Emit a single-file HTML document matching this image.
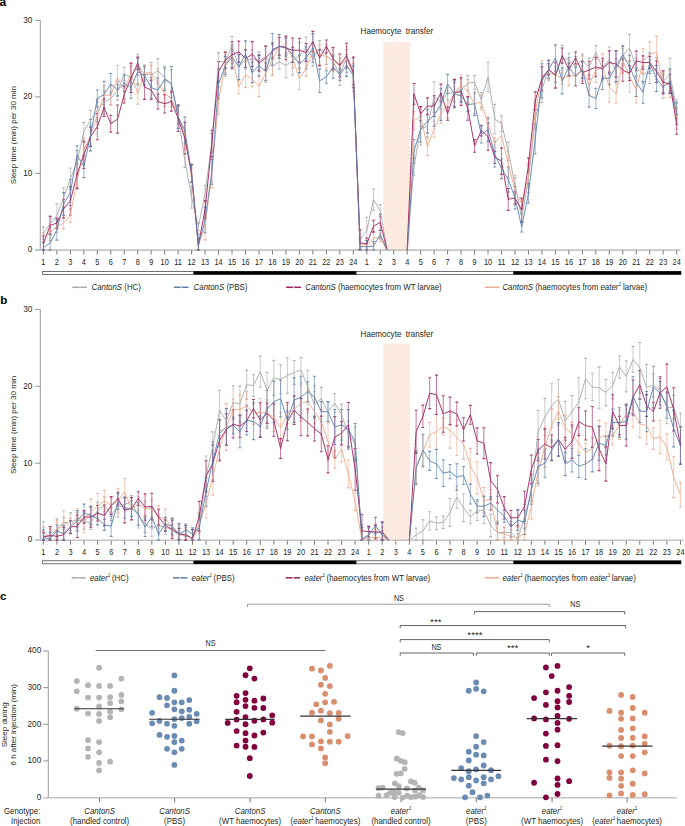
<!DOCTYPE html>
<html><head><meta charset="utf-8"><style>
html,body{margin:0;padding:0;background:#fff;}
body{width:685px;height:826px;overflow:hidden;font-family:"Liberation Sans", sans-serif;}
svg{display:block;}
</style></head><body>
<svg width="685" height="826" viewBox="0 0 685 826" font-family='"Liberation Sans", sans-serif'>
<defs><pattern id="dots" x="383.4" y="42" width="3.8" height="3.8" patternUnits="userSpaceOnUse"><rect width="3.8" height="3.8" fill="#fef3f3"/><circle cx="0.95" cy="0.95" r="0.68" fill="#fcc790"/><circle cx="2.85" cy="2.85" r="0.68" fill="#fcc790"/></pattern></defs>
<rect width="685" height="826" fill="#fff"/>
<text x="-0.4" y="6.1" font-size="12" text-anchor="start" font-weight="bold" font-style="normal" fill="#000" >a</text>
<rect x="383.3" y="42" width="26.7" height="207.9" fill="url(#dots)"/>
<text transform="translate(396.9 33.7) scale(1.01 1.1)" font-size="8" text-anchor="middle" font-weight="normal" font-style="normal" fill="#231f20">Haemocyte&#160; transfer</text>
<text x="0" y="0" font-size="8" text-anchor="middle" font-weight="normal" font-style="normal" fill="#231f20" transform="translate(15.5 135.1) rotate(-90) scale(1.0 0.95)">Sleep time (min) per 30 min</text>
<line x1="40.3" y1="20.4" x2="40.3" y2="249.9" stroke="#9a9a9a" stroke-width="1" />
<line x1="35.2" y1="249.9" x2="40.3" y2="249.9" stroke="#777" stroke-width="0.8" />
<text transform="translate(32.3 252.2) scale(1 1.07)" font-size="8.2" text-anchor="end" font-weight="normal" font-style="normal" fill="#231f20">0</text>
<line x1="35.2" y1="173.4" x2="40.3" y2="173.4" stroke="#777" stroke-width="0.8" />
<text transform="translate(32.3 175.7) scale(1 1.07)" font-size="8.2" text-anchor="end" font-weight="normal" font-style="normal" fill="#231f20">10</text>
<line x1="35.2" y1="96.9" x2="40.3" y2="96.9" stroke="#777" stroke-width="0.8" />
<text transform="translate(32.3 99.2) scale(1 1.07)" font-size="8.2" text-anchor="end" font-weight="normal" font-style="normal" fill="#231f20">20</text>
<line x1="35.2" y1="20.4" x2="40.3" y2="20.4" stroke="#777" stroke-width="0.8" />
<text transform="translate(32.3 22.7) scale(1 1.07)" font-size="8.2" text-anchor="end" font-weight="normal" font-style="normal" fill="#231f20">30</text>
<line x1="35.2" y1="250.1" x2="680.5" y2="250.1" stroke="#c4c4c4" stroke-width="1.6" />
<line x1="43.4" y1="250.4" x2="43.4" y2="254.5" stroke="#555" stroke-width="0.8" />
<text transform="translate(43.4 264.8) scale(0.98 1.17)" font-size="7.5" text-anchor="middle" font-weight="normal" font-style="normal" fill="#231f20">1</text>
<line x1="56.87" y1="250.4" x2="56.87" y2="254.5" stroke="#555" stroke-width="0.8" />
<text transform="translate(56.87 264.8) scale(0.98 1.17)" font-size="7.5" text-anchor="middle" font-weight="normal" font-style="normal" fill="#231f20">2</text>
<line x1="70.35" y1="250.4" x2="70.35" y2="254.5" stroke="#555" stroke-width="0.8" />
<text transform="translate(70.35 264.8) scale(0.98 1.17)" font-size="7.5" text-anchor="middle" font-weight="normal" font-style="normal" fill="#231f20">3</text>
<line x1="83.82" y1="250.4" x2="83.82" y2="254.5" stroke="#555" stroke-width="0.8" />
<text transform="translate(83.82 264.8) scale(0.98 1.17)" font-size="7.5" text-anchor="middle" font-weight="normal" font-style="normal" fill="#231f20">4</text>
<line x1="97.3" y1="250.4" x2="97.3" y2="254.5" stroke="#555" stroke-width="0.8" />
<text transform="translate(97.3 264.8) scale(0.98 1.17)" font-size="7.5" text-anchor="middle" font-weight="normal" font-style="normal" fill="#231f20">5</text>
<line x1="110.77" y1="250.4" x2="110.77" y2="254.5" stroke="#555" stroke-width="0.8" />
<text transform="translate(110.77 264.8) scale(0.98 1.17)" font-size="7.5" text-anchor="middle" font-weight="normal" font-style="normal" fill="#231f20">6</text>
<line x1="124.24" y1="250.4" x2="124.24" y2="254.5" stroke="#555" stroke-width="0.8" />
<text transform="translate(124.24 264.8) scale(0.98 1.17)" font-size="7.5" text-anchor="middle" font-weight="normal" font-style="normal" fill="#231f20">7</text>
<line x1="137.72" y1="250.4" x2="137.72" y2="254.5" stroke="#555" stroke-width="0.8" />
<text transform="translate(137.72 264.8) scale(0.98 1.17)" font-size="7.5" text-anchor="middle" font-weight="normal" font-style="normal" fill="#231f20">8</text>
<line x1="151.19" y1="250.4" x2="151.19" y2="254.5" stroke="#555" stroke-width="0.8" />
<text transform="translate(151.19 264.8) scale(0.98 1.17)" font-size="7.5" text-anchor="middle" font-weight="normal" font-style="normal" fill="#231f20">9</text>
<line x1="164.67" y1="250.4" x2="164.67" y2="254.5" stroke="#555" stroke-width="0.8" />
<text transform="translate(164.67 264.8) scale(0.98 1.17)" font-size="7.5" text-anchor="middle" font-weight="normal" font-style="normal" fill="#231f20">10</text>
<line x1="178.14" y1="250.4" x2="178.14" y2="254.5" stroke="#555" stroke-width="0.8" />
<text transform="translate(178.14 264.8) scale(0.98 1.17)" font-size="7.5" text-anchor="middle" font-weight="normal" font-style="normal" fill="#231f20">11</text>
<line x1="191.61" y1="250.4" x2="191.61" y2="254.5" stroke="#555" stroke-width="0.8" />
<text transform="translate(191.61 264.8) scale(0.98 1.17)" font-size="7.5" text-anchor="middle" font-weight="normal" font-style="normal" fill="#231f20">12</text>
<line x1="205.09" y1="250.4" x2="205.09" y2="254.5" stroke="#555" stroke-width="0.8" />
<text transform="translate(205.09 264.8) scale(0.98 1.17)" font-size="7.5" text-anchor="middle" font-weight="normal" font-style="normal" fill="#231f20">13</text>
<line x1="218.56" y1="250.4" x2="218.56" y2="254.5" stroke="#555" stroke-width="0.8" />
<text transform="translate(218.56 264.8) scale(0.98 1.17)" font-size="7.5" text-anchor="middle" font-weight="normal" font-style="normal" fill="#231f20">14</text>
<line x1="232.04" y1="250.4" x2="232.04" y2="254.5" stroke="#555" stroke-width="0.8" />
<text transform="translate(232.04 264.8) scale(0.98 1.17)" font-size="7.5" text-anchor="middle" font-weight="normal" font-style="normal" fill="#231f20">15</text>
<line x1="245.51" y1="250.4" x2="245.51" y2="254.5" stroke="#555" stroke-width="0.8" />
<text transform="translate(245.51 264.8) scale(0.98 1.17)" font-size="7.5" text-anchor="middle" font-weight="normal" font-style="normal" fill="#231f20">16</text>
<line x1="258.98" y1="250.4" x2="258.98" y2="254.5" stroke="#555" stroke-width="0.8" />
<text transform="translate(258.98 264.8) scale(0.98 1.17)" font-size="7.5" text-anchor="middle" font-weight="normal" font-style="normal" fill="#231f20">17</text>
<line x1="272.46" y1="250.4" x2="272.46" y2="254.5" stroke="#555" stroke-width="0.8" />
<text transform="translate(272.46 264.8) scale(0.98 1.17)" font-size="7.5" text-anchor="middle" font-weight="normal" font-style="normal" fill="#231f20">18</text>
<line x1="285.93" y1="250.4" x2="285.93" y2="254.5" stroke="#555" stroke-width="0.8" />
<text transform="translate(285.93 264.8) scale(0.98 1.17)" font-size="7.5" text-anchor="middle" font-weight="normal" font-style="normal" fill="#231f20">19</text>
<line x1="299.41" y1="250.4" x2="299.41" y2="254.5" stroke="#555" stroke-width="0.8" />
<text transform="translate(299.41 264.8) scale(0.98 1.17)" font-size="7.5" text-anchor="middle" font-weight="normal" font-style="normal" fill="#231f20">20</text>
<line x1="312.88" y1="250.4" x2="312.88" y2="254.5" stroke="#555" stroke-width="0.8" />
<text transform="translate(312.88 264.8) scale(0.98 1.17)" font-size="7.5" text-anchor="middle" font-weight="normal" font-style="normal" fill="#231f20">21</text>
<line x1="326.35" y1="250.4" x2="326.35" y2="254.5" stroke="#555" stroke-width="0.8" />
<text transform="translate(326.35 264.8) scale(0.98 1.17)" font-size="7.5" text-anchor="middle" font-weight="normal" font-style="normal" fill="#231f20">22</text>
<line x1="339.83" y1="250.4" x2="339.83" y2="254.5" stroke="#555" stroke-width="0.8" />
<text transform="translate(339.83 264.8) scale(0.98 1.17)" font-size="7.5" text-anchor="middle" font-weight="normal" font-style="normal" fill="#231f20">23</text>
<line x1="353.3" y1="250.4" x2="353.3" y2="254.5" stroke="#555" stroke-width="0.8" />
<text transform="translate(353.3 264.8) scale(0.98 1.17)" font-size="7.5" text-anchor="middle" font-weight="normal" font-style="normal" fill="#231f20">24</text>
<line x1="366.78" y1="250.4" x2="366.78" y2="254.5" stroke="#555" stroke-width="0.8" />
<text transform="translate(366.78 264.8) scale(0.98 1.17)" font-size="7.5" text-anchor="middle" font-weight="normal" font-style="normal" fill="#231f20">1</text>
<line x1="380.25" y1="250.4" x2="380.25" y2="254.5" stroke="#555" stroke-width="0.8" />
<text transform="translate(380.25 264.8) scale(0.98 1.17)" font-size="7.5" text-anchor="middle" font-weight="normal" font-style="normal" fill="#231f20">2</text>
<line x1="393.72" y1="250.4" x2="393.72" y2="254.5" stroke="#555" stroke-width="0.8" />
<text transform="translate(393.72 264.8) scale(0.98 1.17)" font-size="7.5" text-anchor="middle" font-weight="normal" font-style="normal" fill="#231f20">3</text>
<line x1="407.2" y1="250.4" x2="407.2" y2="254.5" stroke="#555" stroke-width="0.8" />
<text transform="translate(407.2 264.8) scale(0.98 1.17)" font-size="7.5" text-anchor="middle" font-weight="normal" font-style="normal" fill="#231f20">4</text>
<line x1="420.67" y1="250.4" x2="420.67" y2="254.5" stroke="#555" stroke-width="0.8" />
<text transform="translate(420.67 264.8) scale(0.98 1.17)" font-size="7.5" text-anchor="middle" font-weight="normal" font-style="normal" fill="#231f20">5</text>
<line x1="434.15" y1="250.4" x2="434.15" y2="254.5" stroke="#555" stroke-width="0.8" />
<text transform="translate(434.15 264.8) scale(0.98 1.17)" font-size="7.5" text-anchor="middle" font-weight="normal" font-style="normal" fill="#231f20">6</text>
<line x1="447.62" y1="250.4" x2="447.62" y2="254.5" stroke="#555" stroke-width="0.8" />
<text transform="translate(447.62 264.8) scale(0.98 1.17)" font-size="7.5" text-anchor="middle" font-weight="normal" font-style="normal" fill="#231f20">7</text>
<line x1="461.09" y1="250.4" x2="461.09" y2="254.5" stroke="#555" stroke-width="0.8" />
<text transform="translate(461.09 264.8) scale(0.98 1.17)" font-size="7.5" text-anchor="middle" font-weight="normal" font-style="normal" fill="#231f20">8</text>
<line x1="474.57" y1="250.4" x2="474.57" y2="254.5" stroke="#555" stroke-width="0.8" />
<text transform="translate(474.57 264.8) scale(0.98 1.17)" font-size="7.5" text-anchor="middle" font-weight="normal" font-style="normal" fill="#231f20">9</text>
<line x1="488.04" y1="250.4" x2="488.04" y2="254.5" stroke="#555" stroke-width="0.8" />
<text transform="translate(488.04 264.8) scale(0.98 1.17)" font-size="7.5" text-anchor="middle" font-weight="normal" font-style="normal" fill="#231f20">10</text>
<line x1="501.52" y1="250.4" x2="501.52" y2="254.5" stroke="#555" stroke-width="0.8" />
<text transform="translate(501.52 264.8) scale(0.98 1.17)" font-size="7.5" text-anchor="middle" font-weight="normal" font-style="normal" fill="#231f20">11</text>
<line x1="514.99" y1="250.4" x2="514.99" y2="254.5" stroke="#555" stroke-width="0.8" />
<text transform="translate(514.99 264.8) scale(0.98 1.17)" font-size="7.5" text-anchor="middle" font-weight="normal" font-style="normal" fill="#231f20">12</text>
<line x1="528.46" y1="250.4" x2="528.46" y2="254.5" stroke="#555" stroke-width="0.8" />
<text transform="translate(528.46 264.8) scale(0.98 1.17)" font-size="7.5" text-anchor="middle" font-weight="normal" font-style="normal" fill="#231f20">13</text>
<line x1="541.94" y1="250.4" x2="541.94" y2="254.5" stroke="#555" stroke-width="0.8" />
<text transform="translate(541.94 264.8) scale(0.98 1.17)" font-size="7.5" text-anchor="middle" font-weight="normal" font-style="normal" fill="#231f20">14</text>
<line x1="555.41" y1="250.4" x2="555.41" y2="254.5" stroke="#555" stroke-width="0.8" />
<text transform="translate(555.41 264.8) scale(0.98 1.17)" font-size="7.5" text-anchor="middle" font-weight="normal" font-style="normal" fill="#231f20">15</text>
<line x1="568.89" y1="250.4" x2="568.89" y2="254.5" stroke="#555" stroke-width="0.8" />
<text transform="translate(568.89 264.8) scale(0.98 1.17)" font-size="7.5" text-anchor="middle" font-weight="normal" font-style="normal" fill="#231f20">16</text>
<line x1="582.36" y1="250.4" x2="582.36" y2="254.5" stroke="#555" stroke-width="0.8" />
<text transform="translate(582.36 264.8) scale(0.98 1.17)" font-size="7.5" text-anchor="middle" font-weight="normal" font-style="normal" fill="#231f20">17</text>
<line x1="595.83" y1="250.4" x2="595.83" y2="254.5" stroke="#555" stroke-width="0.8" />
<text transform="translate(595.83 264.8) scale(0.98 1.17)" font-size="7.5" text-anchor="middle" font-weight="normal" font-style="normal" fill="#231f20">18</text>
<line x1="609.31" y1="250.4" x2="609.31" y2="254.5" stroke="#555" stroke-width="0.8" />
<text transform="translate(609.31 264.8) scale(0.98 1.17)" font-size="7.5" text-anchor="middle" font-weight="normal" font-style="normal" fill="#231f20">19</text>
<line x1="622.78" y1="250.4" x2="622.78" y2="254.5" stroke="#555" stroke-width="0.8" />
<text transform="translate(622.78 264.8) scale(0.98 1.17)" font-size="7.5" text-anchor="middle" font-weight="normal" font-style="normal" fill="#231f20">20</text>
<line x1="636.26" y1="250.4" x2="636.26" y2="254.5" stroke="#555" stroke-width="0.8" />
<text transform="translate(636.26 264.8) scale(0.98 1.17)" font-size="7.5" text-anchor="middle" font-weight="normal" font-style="normal" fill="#231f20">21</text>
<line x1="649.73" y1="250.4" x2="649.73" y2="254.5" stroke="#555" stroke-width="0.8" />
<text transform="translate(649.73 264.8) scale(0.98 1.17)" font-size="7.5" text-anchor="middle" font-weight="normal" font-style="normal" fill="#231f20">22</text>
<line x1="663.2" y1="250.4" x2="663.2" y2="254.5" stroke="#555" stroke-width="0.8" />
<text transform="translate(663.2 264.8) scale(0.98 1.17)" font-size="7.5" text-anchor="middle" font-weight="normal" font-style="normal" fill="#231f20">23</text>
<line x1="676.68" y1="250.4" x2="676.68" y2="254.5" stroke="#555" stroke-width="0.8" />
<text transform="translate(676.68 264.8) scale(0.98 1.17)" font-size="7.5" text-anchor="middle" font-weight="normal" font-style="normal" fill="#231f20">24</text>
<rect x="42.67" y="271.48" width="150.65" height="2.95" fill="#fff" stroke="#444" stroke-width="0.75"/>
<rect x="193.7" y="271.1" width="162.5" height="3.7" fill="#000"/>
<rect x="356.2" y="271.48" width="157.4" height="2.95" fill="#fff" stroke="#444" stroke-width="0.75"/>
<rect x="513.6" y="271.1" width="167.7" height="3.7" fill="#000"/>
<g stroke="#a8a8a8" stroke-width="0.85" opacity="0.7" fill="none"><path d="M43.4 226.9V239.24"/><path d="M50.14 215.92V231.86"/><path d="M56.87 203.71V227.24"/><path d="M63.61 187.75V208.01"/><path d="M70.35 168.07V189.44"/><path d="M77.09 150.59V174.79"/><path d="M83.82 122.4V140.25"/><path d="M90.56 110.48V130.75"/><path d="M97.3 99.67V121.67"/><path d="M104.03 90.66V113.85"/><path d="M110.77 92.1V104.76"/><path d="M117.51 81.43V100.13"/><path d="M124.24 67.19V80.71"/><path d="M130.98 65.9V89.65"/><path d="M137.72 54.22V75.32"/><path d="M144.46 67.81V80.09"/><path d="M151.19 62.46V86.97"/><path d="M157.93 58.65V83.13"/><path d="M164.67 66.57V88.98"/><path d="M171.4 69.92V97.87"/><path d="M178.14 106.36V124.16"/><path d="M184.88 153.45V167.34"/><path d="M191.61 186.26V207.97"/><path d="M198.35 223.14V230.76"/><path d="M205.09 185.25V201.33"/><path d="M211.83 133.51V152.09"/><path d="M218.56 52.62V69.27"/><path d="M225.3 52.22V72.73"/><path d="M232.04 36.49V54.8"/><path d="M238.77 53.97V80.16"/><path d="M245.51 49.57V69.26"/><path d="M252.25 49.44V69.39"/><path d="M258.98 51.83V70.06"/><path d="M265.72 45.64V67.07"/><path d="M272.46 57.33V75.27"/><path d="M279.19 54.45V68.97"/><path d="M285.93 53.3V77.77"/><path d="M292.67 47.06V74.83"/><path d="M299.41 42.33V68.85"/><path d="M306.14 37V58.88"/><path d="M312.88 51.15V66.15"/><path d="M319.62 40.59V55.29"/><path d="M326.35 46.85V64.33"/><path d="M333.09 54.47V68.95"/><path d="M339.83 63.88V85.55"/><path d="M346.56 49.77V66"/><path d="M353.3 58.03V91.4"/><path d="M360.04 230.3V248.08"/><path d="M366.78 217.19V244.36"/><path d="M373.51 188.72V210.1"/><path d="M380.25 204.67V217.1"/><path d="M413.94 157.89V175.14"/><path d="M420.67 113.12V144.94"/><path d="M427.41 114.93V137.01"/><path d="M434.15 81.71V112.09"/><path d="M440.88 93.86V109.12"/><path d="M447.62 87.79V99.89"/><path d="M454.36 82.84V101.78"/><path d="M461.09 78.68V101.35"/><path d="M467.83 75.6V90.66"/><path d="M474.57 75.44V89.29"/><path d="M481.31 92.5V107.42"/><path d="M488.04 62.3V91.72"/><path d="M494.78 104.39V133.78"/><path d="M501.52 115.79V131.56"/><path d="M508.25 142.02V160.41"/><path d="M514.99 177.48V192.27"/><path d="M521.73 213.66V221.88"/><path d="M528.46 165.16V192.35"/><path d="M535.2 110.82V128.88"/><path d="M541.94 75.87V102.63"/><path d="M548.68 59.47V79.25"/><path d="M555.41 67.3V82.13"/><path d="M562.15 45.37V70.4"/><path d="M568.89 53.29V67.07"/><path d="M575.62 56.66V75.94"/><path d="M582.36 54.04V66.32"/><path d="M589.1 58.12V76.01"/><path d="M595.83 45.52V59.54"/><path d="M602.57 60.91V76.28"/><path d="M609.31 47.07V71.76"/><path d="M616.04 58.91V81.34"/><path d="M622.78 45.87V65.31"/><path d="M629.52 34.35V61.53"/><path d="M636.26 57.96V76.17"/><path d="M642.99 66.45V82.98"/><path d="M649.73 59.75V83.56"/><path d="M656.47 57.79V79.4"/><path d="M663.2 74.65V87.02"/><path d="M669.94 58.19V91.24"/><path d="M676.68 99.96V118.32"/></g><g stroke="#a8a8a8" stroke-width="1.1" opacity="0.85" fill="none"><path d="M41.95 226.9H44.85M41.95 239.24H44.85"/><path d="M48.69 215.92H51.59M48.69 231.86H51.59"/><path d="M55.42 203.71H58.32M55.42 227.24H58.32"/><path d="M62.16 187.75H65.06M62.16 208.01H65.06"/><path d="M68.9 168.07H71.8M68.9 189.44H71.8"/><path d="M75.64 150.59H78.54M75.64 174.79H78.54"/><path d="M82.37 122.4H85.27M82.37 140.25H85.27"/><path d="M89.11 110.48H92.01M89.11 130.75H92.01"/><path d="M95.85 99.67H98.75M95.85 121.67H98.75"/><path d="M102.58 90.66H105.48M102.58 113.85H105.48"/><path d="M109.32 92.1H112.22M109.32 104.76H112.22"/><path d="M116.06 81.43H118.96M116.06 100.13H118.96"/><path d="M122.79 67.19H125.69M122.79 80.71H125.69"/><path d="M129.53 65.9H132.43M129.53 89.65H132.43"/><path d="M136.27 54.22H139.17M136.27 75.32H139.17"/><path d="M143.01 67.81H145.91M143.01 80.09H145.91"/><path d="M149.74 62.46H152.64M149.74 86.97H152.64"/><path d="M156.48 58.65H159.38M156.48 83.13H159.38"/><path d="M163.22 66.57H166.12M163.22 88.98H166.12"/><path d="M169.95 69.92H172.85M169.95 97.87H172.85"/><path d="M176.69 106.36H179.59M176.69 124.16H179.59"/><path d="M183.43 153.45H186.33M183.43 167.34H186.33"/><path d="M190.16 186.26H193.06M190.16 207.97H193.06"/><path d="M196.9 223.14H199.8M196.9 230.76H199.8"/><path d="M203.64 185.25H206.54M203.64 201.33H206.54"/><path d="M210.38 133.51H213.28M210.38 152.09H213.28"/><path d="M217.11 52.62H220.01M217.11 69.27H220.01"/><path d="M223.85 52.22H226.75M223.85 72.73H226.75"/><path d="M230.59 36.49H233.49M230.59 54.8H233.49"/><path d="M237.32 53.97H240.22M237.32 80.16H240.22"/><path d="M244.06 49.57H246.96M244.06 69.26H246.96"/><path d="M250.8 49.44H253.7M250.8 69.39H253.7"/><path d="M257.53 51.83H260.43M257.53 70.06H260.43"/><path d="M264.27 45.64H267.17M264.27 67.07H267.17"/><path d="M271.01 57.33H273.91M271.01 75.27H273.91"/><path d="M277.75 54.45H280.64M277.75 68.97H280.64"/><path d="M284.48 53.3H287.38M284.48 77.77H287.38"/><path d="M291.22 47.06H294.12M291.22 74.83H294.12"/><path d="M297.96 42.33H300.86M297.96 68.85H300.86"/><path d="M304.69 37H307.59M304.69 58.88H307.59"/><path d="M311.43 51.15H314.33M311.43 66.15H314.33"/><path d="M318.17 40.59H321.07M318.17 55.29H321.07"/><path d="M324.9 46.85H327.8M324.9 64.33H327.8"/><path d="M331.64 54.47H334.54M331.64 68.95H334.54"/><path d="M338.38 63.88H341.28M338.38 85.55H341.28"/><path d="M345.12 49.77H348.01M345.12 66H348.01"/><path d="M351.85 58.03H354.75M351.85 91.4H354.75"/><path d="M358.59 230.3H361.49M358.59 248.08H361.49"/><path d="M365.33 217.19H368.23M365.33 244.36H368.23"/><path d="M372.06 188.72H374.96M372.06 210.1H374.96"/><path d="M378.8 204.67H381.7M378.8 217.1H381.7"/><path d="M412.49 157.89H415.38M412.49 175.14H415.38"/><path d="M419.22 113.12H422.12M419.22 144.94H422.12"/><path d="M425.96 114.93H428.86M425.96 137.01H428.86"/><path d="M432.7 81.71H435.6M432.7 112.09H435.6"/><path d="M439.43 93.86H442.33M439.43 109.12H442.33"/><path d="M446.17 87.79H449.07M446.17 99.89H449.07"/><path d="M452.91 82.84H455.81M452.91 101.78H455.81"/><path d="M459.64 78.68H462.54M459.64 101.35H462.54"/><path d="M466.38 75.6H469.28M466.38 90.66H469.28"/><path d="M473.12 75.44H476.02M473.12 89.29H476.02"/><path d="M479.86 92.5H482.75M479.86 107.42H482.75"/><path d="M486.59 62.3H489.49M486.59 91.72H489.49"/><path d="M493.33 104.39H496.23M493.33 133.78H496.23"/><path d="M500.07 115.79H502.97M500.07 131.56H502.97"/><path d="M506.8 142.02H509.7M506.8 160.41H509.7"/><path d="M513.54 177.48H516.44M513.54 192.27H516.44"/><path d="M520.28 213.66H523.18M520.28 221.88H523.18"/><path d="M527.01 165.16H529.91M527.01 192.35H529.91"/><path d="M533.75 110.82H536.65M533.75 128.88H536.65"/><path d="M540.49 75.87H543.39M540.49 102.63H543.39"/><path d="M547.23 59.47H550.13M547.23 79.25H550.13"/><path d="M553.96 67.3H556.86M553.96 82.13H556.86"/><path d="M560.7 45.37H563.6M560.7 70.4H563.6"/><path d="M567.44 53.29H570.34M567.44 67.07H570.34"/><path d="M574.17 56.66H577.07M574.17 75.94H577.07"/><path d="M580.91 54.04H583.81M580.91 66.32H583.81"/><path d="M587.65 58.12H590.55M587.65 76.01H590.55"/><path d="M594.38 45.52H597.28M594.38 59.54H597.28"/><path d="M601.12 60.91H604.02M601.12 76.28H604.02"/><path d="M607.86 47.07H610.76M607.86 71.76H610.76"/><path d="M614.59 58.91H617.5M614.59 81.34H617.5"/><path d="M621.33 45.87H624.23M621.33 65.31H624.23"/><path d="M628.07 34.35H630.97M628.07 61.53H630.97"/><path d="M634.81 57.96H637.71M634.81 76.17H637.71"/><path d="M641.54 66.45H644.44M641.54 82.98H644.44"/><path d="M648.28 59.75H651.18M648.28 83.56H651.18"/><path d="M655.02 57.79H657.92M655.02 79.4H657.92"/><path d="M661.75 74.65H664.65M661.75 87.02H664.65"/><path d="M668.49 58.19H671.39M668.49 91.24H671.39"/><path d="M675.23 99.96H678.13M675.23 118.32H678.13"/></g>
<g stroke="#eca98b" stroke-width="0.85" opacity="0.7" fill="none"><path d="M43.4 232.93V242.39"/><path d="M50.14 224.25V240.36"/><path d="M56.87 221.31V232.59"/><path d="M63.61 217.36V228.89"/><path d="M70.35 208.72V222.23"/><path d="M77.09 172.92V187.65"/><path d="M83.82 138.13V162.77"/><path d="M90.56 126.02V144.28"/><path d="M97.3 102.01V128.51"/><path d="M104.03 85.99V104.75"/><path d="M110.77 85.58V105.16"/><path d="M117.51 65.52V90.03"/><path d="M124.24 82.19V99.37"/><path d="M130.98 63.78V82.59"/><path d="M137.72 83.37V104.31"/><path d="M144.46 64.92V81.45"/><path d="M151.19 65.39V79.45"/><path d="M157.93 68.7V97.56"/><path d="M164.67 81.39V106.29"/><path d="M171.4 89.98V106.88"/><path d="M178.14 106.18V124.34"/><path d="M184.88 121.02V149.28"/><path d="M191.61 163.9V193.61"/><path d="M198.35 238V249.9"/><path d="M205.09 212.53V239.84"/><path d="M211.83 158.92V187.88"/><path d="M218.56 87.14V114.31"/><path d="M225.3 51.56V76.45"/><path d="M232.04 47.66V63.52"/><path d="M238.77 80.31V93.6"/><path d="M245.51 61.84V87.59"/><path d="M252.25 71.59V87.02"/><path d="M258.98 75.74V96.64"/><path d="M265.72 63.82V82.55"/><path d="M272.46 45.1V75.26"/><path d="M279.19 34.79V58.03"/><path d="M285.93 36.86V54.43"/><path d="M292.67 49.21V68.09"/><path d="M299.41 67.26V89.82"/><path d="M306.14 60.8V76.39"/><path d="M312.88 42.7V59.3"/><path d="M319.62 44.86V64.79"/><path d="M326.35 44.08V68.63"/><path d="M333.09 50.19V71.7"/><path d="M339.83 58.25V72.82"/><path d="M346.56 46.48V72.35"/><path d="M353.3 63.19V83.18"/><path d="M360.04 238.62V249.9"/><path d="M366.78 240.51V249.9"/><path d="M373.51 231.79V243.53"/><path d="M380.25 233.32V242"/><path d="M413.94 111.61V129.62"/><path d="M420.67 107.16V126.42"/><path d="M427.41 137.63V155.62"/><path d="M434.15 121.03V137.03"/><path d="M440.88 104.27V123.19"/><path d="M447.62 91.07V118.03"/><path d="M454.36 79.33V108.35"/><path d="M461.09 75.03V94.29"/><path d="M467.83 79.51V103.58"/><path d="M474.57 93.98V113.59"/><path d="M481.31 94.84V109.67"/><path d="M488.04 116.86V132.02"/><path d="M494.78 137.64V147.96"/><path d="M501.52 122.08V148.22"/><path d="M508.25 151.13V177.31"/><path d="M514.99 175.49V204.97"/><path d="M521.73 199.29V208.71"/><path d="M528.46 163.44V187.95"/><path d="M535.2 100.06V124.34"/><path d="M541.94 60.81V91.68"/><path d="M548.68 65.75V80.62"/><path d="M555.41 61.95V87.48"/><path d="M562.15 72.87V84.21"/><path d="M568.89 67.11V85.38"/><path d="M575.62 64.32V86.64"/><path d="M582.36 55.79V81.4"/><path d="M589.1 74.59V94.73"/><path d="M595.83 57.71V82.54"/><path d="M602.57 53.92V80.21"/><path d="M609.31 71.71V102.2"/><path d="M616.04 83.95V103.73"/><path d="M622.78 48.47V73.42"/><path d="M629.52 60.48V92.01"/><path d="M636.26 77.04V102.99"/><path d="M642.99 48.74V73.15"/><path d="M649.73 41.86V66.26"/><path d="M656.47 36.16V68.9"/><path d="M663.2 72.7V98.15"/><path d="M669.94 70.43V97.36"/><path d="M676.68 107.69V128.95"/></g><g stroke="#eca98b" stroke-width="1.1" opacity="0.85" fill="none"><path d="M41.95 232.93H44.85M41.95 242.39H44.85"/><path d="M48.69 224.25H51.59M48.69 240.36H51.59"/><path d="M55.42 221.31H58.32M55.42 232.59H58.32"/><path d="M62.16 217.36H65.06M62.16 228.89H65.06"/><path d="M68.9 208.72H71.8M68.9 222.23H71.8"/><path d="M75.64 172.92H78.54M75.64 187.65H78.54"/><path d="M82.37 138.13H85.27M82.37 162.77H85.27"/><path d="M89.11 126.02H92.01M89.11 144.28H92.01"/><path d="M95.85 102.01H98.75M95.85 128.51H98.75"/><path d="M102.58 85.99H105.48M102.58 104.75H105.48"/><path d="M109.32 85.58H112.22M109.32 105.16H112.22"/><path d="M116.06 65.52H118.96M116.06 90.03H118.96"/><path d="M122.79 82.19H125.69M122.79 99.37H125.69"/><path d="M129.53 63.78H132.43M129.53 82.59H132.43"/><path d="M136.27 83.37H139.17M136.27 104.31H139.17"/><path d="M143.01 64.92H145.91M143.01 81.45H145.91"/><path d="M149.74 65.39H152.64M149.74 79.45H152.64"/><path d="M156.48 68.7H159.38M156.48 97.56H159.38"/><path d="M163.22 81.39H166.12M163.22 106.29H166.12"/><path d="M169.95 89.98H172.85M169.95 106.88H172.85"/><path d="M176.69 106.18H179.59M176.69 124.34H179.59"/><path d="M183.43 121.02H186.33M183.43 149.28H186.33"/><path d="M190.16 163.9H193.06M190.16 193.61H193.06"/><path d="M196.9 238H199.8M196.9 249.9H199.8"/><path d="M203.64 212.53H206.54M203.64 239.84H206.54"/><path d="M210.38 158.92H213.28M210.38 187.88H213.28"/><path d="M217.11 87.14H220.01M217.11 114.31H220.01"/><path d="M223.85 51.56H226.75M223.85 76.45H226.75"/><path d="M230.59 47.66H233.49M230.59 63.52H233.49"/><path d="M237.32 80.31H240.22M237.32 93.6H240.22"/><path d="M244.06 61.84H246.96M244.06 87.59H246.96"/><path d="M250.8 71.59H253.7M250.8 87.02H253.7"/><path d="M257.53 75.74H260.43M257.53 96.64H260.43"/><path d="M264.27 63.82H267.17M264.27 82.55H267.17"/><path d="M271.01 45.1H273.91M271.01 75.26H273.91"/><path d="M277.75 34.79H280.64M277.75 58.03H280.64"/><path d="M284.48 36.86H287.38M284.48 54.43H287.38"/><path d="M291.22 49.21H294.12M291.22 68.09H294.12"/><path d="M297.96 67.26H300.86M297.96 89.82H300.86"/><path d="M304.69 60.8H307.59M304.69 76.39H307.59"/><path d="M311.43 42.7H314.33M311.43 59.3H314.33"/><path d="M318.17 44.86H321.07M318.17 64.79H321.07"/><path d="M324.9 44.08H327.8M324.9 68.63H327.8"/><path d="M331.64 50.19H334.54M331.64 71.7H334.54"/><path d="M338.38 58.25H341.28M338.38 72.82H341.28"/><path d="M345.12 46.48H348.01M345.12 72.35H348.01"/><path d="M351.85 63.19H354.75M351.85 83.18H354.75"/><path d="M358.59 238.62H361.49M358.59 249.9H361.49"/><path d="M365.33 240.51H368.23M365.33 249.9H368.23"/><path d="M372.06 231.79H374.96M372.06 243.53H374.96"/><path d="M378.8 233.32H381.7M378.8 242H381.7"/><path d="M412.49 111.61H415.38M412.49 129.62H415.38"/><path d="M419.22 107.16H422.12M419.22 126.42H422.12"/><path d="M425.96 137.63H428.86M425.96 155.62H428.86"/><path d="M432.7 121.03H435.6M432.7 137.03H435.6"/><path d="M439.43 104.27H442.33M439.43 123.19H442.33"/><path d="M446.17 91.07H449.07M446.17 118.03H449.07"/><path d="M452.91 79.33H455.81M452.91 108.35H455.81"/><path d="M459.64 75.03H462.54M459.64 94.29H462.54"/><path d="M466.38 79.51H469.28M466.38 103.58H469.28"/><path d="M473.12 93.98H476.02M473.12 113.59H476.02"/><path d="M479.86 94.84H482.75M479.86 109.67H482.75"/><path d="M486.59 116.86H489.49M486.59 132.02H489.49"/><path d="M493.33 137.64H496.23M493.33 147.96H496.23"/><path d="M500.07 122.08H502.97M500.07 148.22H502.97"/><path d="M506.8 151.13H509.7M506.8 177.31H509.7"/><path d="M513.54 175.49H516.44M513.54 204.97H516.44"/><path d="M520.28 199.29H523.18M520.28 208.71H523.18"/><path d="M527.01 163.44H529.91M527.01 187.95H529.91"/><path d="M533.75 100.06H536.65M533.75 124.34H536.65"/><path d="M540.49 60.81H543.39M540.49 91.68H543.39"/><path d="M547.23 65.75H550.13M547.23 80.62H550.13"/><path d="M553.96 61.95H556.86M553.96 87.48H556.86"/><path d="M560.7 72.87H563.6M560.7 84.21H563.6"/><path d="M567.44 67.11H570.34M567.44 85.38H570.34"/><path d="M574.17 64.32H577.07M574.17 86.64H577.07"/><path d="M580.91 55.79H583.81M580.91 81.4H583.81"/><path d="M587.65 74.59H590.55M587.65 94.73H590.55"/><path d="M594.38 57.71H597.28M594.38 82.54H597.28"/><path d="M601.12 53.92H604.02M601.12 80.21H604.02"/><path d="M607.86 71.71H610.76M607.86 102.2H610.76"/><path d="M614.59 83.95H617.5M614.59 103.73H617.5"/><path d="M621.33 48.47H624.23M621.33 73.42H624.23"/><path d="M628.07 60.48H630.97M628.07 92.01H630.97"/><path d="M634.81 77.04H637.71M634.81 102.99H637.71"/><path d="M641.54 48.74H644.44M641.54 73.15H644.44"/><path d="M648.28 41.86H651.18M648.28 66.26H651.18"/><path d="M655.02 36.16H657.92M655.02 68.9H657.92"/><path d="M661.75 72.7H664.65M661.75 98.15H664.65"/><path d="M668.49 70.43H671.39M668.49 97.36H671.39"/><path d="M675.23 107.69H678.13M675.23 128.95H678.13"/></g>
<g stroke="#9e1f5c" stroke-width="0.85" opacity="0.7" fill="none"><path d="M43.4 236V249.9"/><path d="M50.14 216.79V234.05"/><path d="M56.87 218.13V228.12"/><path d="M63.61 199.19V217.99"/><path d="M70.35 186.88V215"/><path d="M77.09 159.72V188.61"/><path d="M83.82 141.6V168.48"/><path d="M90.56 127V146.36"/><path d="M97.3 113.76V139.71"/><path d="M104.03 98.89V116.33"/><path d="M110.77 115.22V132.13"/><path d="M117.51 105.01V133.16"/><path d="M124.24 86.15V103.06"/><path d="M130.98 63.16V92.39"/><path d="M137.72 57.12V69.36"/><path d="M144.46 74.58V99.33"/><path d="M151.19 80.25V99.78"/><path d="M157.93 93.97V109.01"/><path d="M164.67 94.64V112.93"/><path d="M171.4 91.83V111.15"/><path d="M178.14 105.21V131.43"/><path d="M184.88 122.45V153.97"/><path d="M191.61 164.47V182.33"/><path d="M198.35 239.6V249.9"/><path d="M205.09 200.63V218.08"/><path d="M211.83 130.21V156.92"/><path d="M218.56 61.65V81.66"/><path d="M225.3 52.24V68.12"/><path d="M232.04 41.73V67.92"/><path d="M238.77 41.17V62.36"/><path d="M245.51 50V67.3"/><path d="M252.25 41.66V66.46"/><path d="M258.98 55.34V71.14"/><path d="M265.72 46.24V69.53"/><path d="M272.46 43.16V58.84"/><path d="M279.19 37.52V55.3"/><path d="M285.93 36.15V59.73"/><path d="M292.67 37.93V62.54"/><path d="M299.41 38.18V62.29"/><path d="M306.14 43.52V61.54"/><path d="M312.88 31.39V52.25"/><path d="M319.62 49.9V65.87"/><path d="M326.35 39.93V52.89"/><path d="M333.09 47.59V69.71"/><path d="M339.83 54.07V77"/><path d="M346.56 43.2V67.98"/><path d="M353.3 57.09V87.75"/><path d="M360.04 229.82V249.9"/><path d="M366.78 237.94V249.62"/><path d="M373.51 220.29V232.08"/><path d="M380.25 214.32V230.4"/><path d="M413.94 83.44V104.24"/><path d="M420.67 106.66V120.8"/><path d="M427.41 97.92V114.24"/><path d="M434.15 95.72V116.44"/><path d="M440.88 84.09V102.06"/><path d="M447.62 107.17V120.29"/><path d="M454.36 79.38V106.77"/><path d="M461.09 77.72V105.37"/><path d="M467.83 96.45V120.3"/><path d="M474.57 139.45V152.27"/><path d="M481.31 125.27V135.85"/><path d="M488.04 123.11V150.25"/><path d="M494.78 151.15V163.52"/><path d="M501.52 147.93V174.39"/><path d="M508.25 188.43V210.39"/><path d="M514.99 191.7V204.06"/><path d="M521.73 198.14V222.1"/><path d="M528.46 158.06V171.91"/><path d="M535.2 91.83V109.62"/><path d="M541.94 66.82V90.26"/><path d="M548.68 63.81V74.91"/><path d="M555.41 62.7V88.26"/><path d="M562.15 48.01V63.17"/><path d="M568.89 63.05V75.67"/><path d="M575.62 52.03V63.74"/><path d="M582.36 61.4V83.44"/><path d="M589.1 61.31V78.94"/><path d="M595.83 57.34V76.79"/><path d="M602.57 58.31V78.88"/><path d="M609.31 50.92V74.03"/><path d="M616.04 50.87V77.14"/><path d="M622.78 59.03V81.22"/><path d="M629.52 65.89V80.48"/><path d="M636.26 51.11V70.78"/><path d="M642.99 55.86V69.09"/><path d="M649.73 56.5V68.45"/><path d="M656.47 60.97V82.34"/><path d="M663.2 70.9V93.83"/><path d="M669.94 74.32V93.47"/><path d="M676.68 114.57V134.31"/></g><g stroke="#9e1f5c" stroke-width="1.1" opacity="0.85" fill="none"><path d="M41.95 236H44.85M41.95 249.9H44.85"/><path d="M48.69 216.79H51.59M48.69 234.05H51.59"/><path d="M55.42 218.13H58.32M55.42 228.12H58.32"/><path d="M62.16 199.19H65.06M62.16 217.99H65.06"/><path d="M68.9 186.88H71.8M68.9 215H71.8"/><path d="M75.64 159.72H78.54M75.64 188.61H78.54"/><path d="M82.37 141.6H85.27M82.37 168.48H85.27"/><path d="M89.11 127H92.01M89.11 146.36H92.01"/><path d="M95.85 113.76H98.75M95.85 139.71H98.75"/><path d="M102.58 98.89H105.48M102.58 116.33H105.48"/><path d="M109.32 115.22H112.22M109.32 132.13H112.22"/><path d="M116.06 105.01H118.96M116.06 133.16H118.96"/><path d="M122.79 86.15H125.69M122.79 103.06H125.69"/><path d="M129.53 63.16H132.43M129.53 92.39H132.43"/><path d="M136.27 57.12H139.17M136.27 69.36H139.17"/><path d="M143.01 74.58H145.91M143.01 99.33H145.91"/><path d="M149.74 80.25H152.64M149.74 99.78H152.64"/><path d="M156.48 93.97H159.38M156.48 109.01H159.38"/><path d="M163.22 94.64H166.12M163.22 112.93H166.12"/><path d="M169.95 91.83H172.85M169.95 111.15H172.85"/><path d="M176.69 105.21H179.59M176.69 131.43H179.59"/><path d="M183.43 122.45H186.33M183.43 153.97H186.33"/><path d="M190.16 164.47H193.06M190.16 182.33H193.06"/><path d="M196.9 239.6H199.8M196.9 249.9H199.8"/><path d="M203.64 200.63H206.54M203.64 218.08H206.54"/><path d="M210.38 130.21H213.28M210.38 156.92H213.28"/><path d="M217.11 61.65H220.01M217.11 81.66H220.01"/><path d="M223.85 52.24H226.75M223.85 68.12H226.75"/><path d="M230.59 41.73H233.49M230.59 67.92H233.49"/><path d="M237.32 41.17H240.22M237.32 62.36H240.22"/><path d="M244.06 50H246.96M244.06 67.3H246.96"/><path d="M250.8 41.66H253.7M250.8 66.46H253.7"/><path d="M257.53 55.34H260.43M257.53 71.14H260.43"/><path d="M264.27 46.24H267.17M264.27 69.53H267.17"/><path d="M271.01 43.16H273.91M271.01 58.84H273.91"/><path d="M277.75 37.52H280.64M277.75 55.3H280.64"/><path d="M284.48 36.15H287.38M284.48 59.73H287.38"/><path d="M291.22 37.93H294.12M291.22 62.54H294.12"/><path d="M297.96 38.18H300.86M297.96 62.29H300.86"/><path d="M304.69 43.52H307.59M304.69 61.54H307.59"/><path d="M311.43 31.39H314.33M311.43 52.25H314.33"/><path d="M318.17 49.9H321.07M318.17 65.87H321.07"/><path d="M324.9 39.93H327.8M324.9 52.89H327.8"/><path d="M331.64 47.59H334.54M331.64 69.71H334.54"/><path d="M338.38 54.07H341.28M338.38 77H341.28"/><path d="M345.12 43.2H348.01M345.12 67.98H348.01"/><path d="M351.85 57.09H354.75M351.85 87.75H354.75"/><path d="M358.59 229.82H361.49M358.59 249.9H361.49"/><path d="M365.33 237.94H368.23M365.33 249.62H368.23"/><path d="M372.06 220.29H374.96M372.06 232.08H374.96"/><path d="M378.8 214.32H381.7M378.8 230.4H381.7"/><path d="M412.49 83.44H415.38M412.49 104.24H415.38"/><path d="M419.22 106.66H422.12M419.22 120.8H422.12"/><path d="M425.96 97.92H428.86M425.96 114.24H428.86"/><path d="M432.7 95.72H435.6M432.7 116.44H435.6"/><path d="M439.43 84.09H442.33M439.43 102.06H442.33"/><path d="M446.17 107.17H449.07M446.17 120.29H449.07"/><path d="M452.91 79.38H455.81M452.91 106.77H455.81"/><path d="M459.64 77.72H462.54M459.64 105.37H462.54"/><path d="M466.38 96.45H469.28M466.38 120.3H469.28"/><path d="M473.12 139.45H476.02M473.12 152.27H476.02"/><path d="M479.86 125.27H482.75M479.86 135.85H482.75"/><path d="M486.59 123.11H489.49M486.59 150.25H489.49"/><path d="M493.33 151.15H496.23M493.33 163.52H496.23"/><path d="M500.07 147.93H502.97M500.07 174.39H502.97"/><path d="M506.8 188.43H509.7M506.8 210.39H509.7"/><path d="M513.54 191.7H516.44M513.54 204.06H516.44"/><path d="M520.28 198.14H523.18M520.28 222.1H523.18"/><path d="M527.01 158.06H529.91M527.01 171.91H529.91"/><path d="M533.75 91.83H536.65M533.75 109.62H536.65"/><path d="M540.49 66.82H543.39M540.49 90.26H543.39"/><path d="M547.23 63.81H550.13M547.23 74.91H550.13"/><path d="M553.96 62.7H556.86M553.96 88.26H556.86"/><path d="M560.7 48.01H563.6M560.7 63.17H563.6"/><path d="M567.44 63.05H570.34M567.44 75.67H570.34"/><path d="M574.17 52.03H577.07M574.17 63.74H577.07"/><path d="M580.91 61.4H583.81M580.91 83.44H583.81"/><path d="M587.65 61.31H590.55M587.65 78.94H590.55"/><path d="M594.38 57.34H597.28M594.38 76.79H597.28"/><path d="M601.12 58.31H604.02M601.12 78.88H604.02"/><path d="M607.86 50.92H610.76M607.86 74.03H610.76"/><path d="M614.59 50.87H617.5M614.59 77.14H617.5"/><path d="M621.33 59.03H624.23M621.33 81.22H624.23"/><path d="M628.07 65.89H630.97M628.07 80.48H630.97"/><path d="M634.81 51.11H637.71M634.81 70.78H637.71"/><path d="M641.54 55.86H644.44M641.54 69.09H644.44"/><path d="M648.28 56.5H651.18M648.28 68.45H651.18"/><path d="M655.02 60.97H657.92M655.02 82.34H657.92"/><path d="M661.75 70.9H664.65M661.75 93.83H664.65"/><path d="M668.49 74.32H671.39M668.49 93.47H671.39"/><path d="M675.23 114.57H678.13M675.23 134.31H678.13"/></g>
<g stroke="#5a7fab" stroke-width="0.85" opacity="0.7" fill="none"><path d="M43.4 242.72V249.9"/><path d="M50.14 234.65V249.9"/><path d="M56.87 219.89V240.13"/><path d="M63.61 192.66V215.34"/><path d="M70.35 179.62V205.43"/><path d="M77.09 145.9V164.18"/><path d="M83.82 155.38V177.65"/><path d="M90.56 119.44V150.86"/><path d="M97.3 90V106.86"/><path d="M104.03 81.38V107.83"/><path d="M110.77 73.48V94.31"/><path d="M117.51 84.2V95.83"/><path d="M124.24 74.87V91.39"/><path d="M130.98 77.16V98.28"/><path d="M137.72 58.37V84.94"/><path d="M144.46 66.12V84.84"/><path d="M151.19 77.21V98.23"/><path d="M157.93 78.05V101.98"/><path d="M164.67 68.02V90.59"/><path d="M171.4 66.56V101.23"/><path d="M178.14 104.92V128.66"/><path d="M184.88 117.16V143.96"/><path d="M191.61 164.93V181.87"/><path d="M198.35 233.94V249.9"/><path d="M205.09 207.32V232.81"/><path d="M211.83 159.49V184.25"/><path d="M218.56 68.77V99.02"/><path d="M225.3 56.39V74.68"/><path d="M232.04 45.22V69.02"/><path d="M238.77 54.61V79.52"/><path d="M245.51 40.89V67.23"/><path d="M252.25 62.23V82.61"/><path d="M258.98 54.75V76.32"/><path d="M265.72 62.69V80.62"/><path d="M272.46 33.52V65.42"/><path d="M279.19 34.44V58.38"/><path d="M285.93 38.35V56"/><path d="M292.67 47.57V62.08"/><path d="M299.41 55.38V72.63"/><path d="M306.14 46.71V69.06"/><path d="M312.88 33.65V62.23"/><path d="M319.62 69.11V92.56"/><path d="M326.35 70.73V83.29"/><path d="M333.09 55.96V78.17"/><path d="M339.83 69.08V80.35"/><path d="M346.56 54.68V76.39"/><path d="M353.3 65.84V85.12"/><path d="M360.04 238.1V249.9"/><path d="M366.78 240.59V249.9"/><path d="M373.51 241.43V249.9"/><path d="M380.25 230.48V238.72"/><path d="M413.94 139.53V162.9"/><path d="M420.67 116.1V141.96"/><path d="M427.41 109.68V133.08"/><path d="M434.15 104.11V126.41"/><path d="M440.88 88.75V120.35"/><path d="M447.62 74.37V93.42"/><path d="M454.36 80.84V106.84"/><path d="M461.09 89.89V102.38"/><path d="M467.83 97.71V111.39"/><path d="M474.57 92.07V115.5"/><path d="M481.31 125.73V143.04"/><path d="M488.04 118.25V141.34"/><path d="M494.78 141.53V167.02"/><path d="M501.52 159.01V178.61"/><path d="M508.25 166.94V192.1"/><path d="M514.99 186.77V208.99"/><path d="M521.73 221.87V232.03"/><path d="M528.46 183.61V202.97"/><path d="M535.2 123.94V154.01"/><path d="M541.94 63.74V97.93"/><path d="M548.68 60.67V78.05"/><path d="M555.41 44.84V70.93"/><path d="M562.15 67.84V93.83"/><path d="M568.89 57.71V76.42"/><path d="M575.62 66.92V85.57"/><path d="M582.36 61.86V78.39"/><path d="M589.1 83.58V107.16"/><path d="M595.83 88.29V108.57"/><path d="M602.57 66.06V89.49"/><path d="M609.31 72.46V84.62"/><path d="M616.04 50.49V82.11"/><path d="M622.78 45.84V63.81"/><path d="M629.52 55.3V77.3"/><path d="M636.26 68.16V96.57"/><path d="M642.99 81.37V103.25"/><path d="M649.73 52.96V73.52"/><path d="M656.47 65.58V91.5"/><path d="M663.2 81.4V92.51"/><path d="M669.94 68.91V92.76"/><path d="M676.68 102.89V124.57"/></g><g stroke="#5a7fab" stroke-width="1.1" opacity="0.85" fill="none"><path d="M41.95 242.72H44.85M41.95 249.9H44.85"/><path d="M48.69 234.65H51.59M48.69 249.9H51.59"/><path d="M55.42 219.89H58.32M55.42 240.13H58.32"/><path d="M62.16 192.66H65.06M62.16 215.34H65.06"/><path d="M68.9 179.62H71.8M68.9 205.43H71.8"/><path d="M75.64 145.9H78.54M75.64 164.18H78.54"/><path d="M82.37 155.38H85.27M82.37 177.65H85.27"/><path d="M89.11 119.44H92.01M89.11 150.86H92.01"/><path d="M95.85 90H98.75M95.85 106.86H98.75"/><path d="M102.58 81.38H105.48M102.58 107.83H105.48"/><path d="M109.32 73.48H112.22M109.32 94.31H112.22"/><path d="M116.06 84.2H118.96M116.06 95.83H118.96"/><path d="M122.79 74.87H125.69M122.79 91.39H125.69"/><path d="M129.53 77.16H132.43M129.53 98.28H132.43"/><path d="M136.27 58.37H139.17M136.27 84.94H139.17"/><path d="M143.01 66.12H145.91M143.01 84.84H145.91"/><path d="M149.74 77.21H152.64M149.74 98.23H152.64"/><path d="M156.48 78.05H159.38M156.48 101.98H159.38"/><path d="M163.22 68.02H166.12M163.22 90.59H166.12"/><path d="M169.95 66.56H172.85M169.95 101.23H172.85"/><path d="M176.69 104.92H179.59M176.69 128.66H179.59"/><path d="M183.43 117.16H186.33M183.43 143.96H186.33"/><path d="M190.16 164.93H193.06M190.16 181.87H193.06"/><path d="M196.9 233.94H199.8M196.9 249.9H199.8"/><path d="M203.64 207.32H206.54M203.64 232.81H206.54"/><path d="M210.38 159.49H213.28M210.38 184.25H213.28"/><path d="M217.11 68.77H220.01M217.11 99.02H220.01"/><path d="M223.85 56.39H226.75M223.85 74.68H226.75"/><path d="M230.59 45.22H233.49M230.59 69.02H233.49"/><path d="M237.32 54.61H240.22M237.32 79.52H240.22"/><path d="M244.06 40.89H246.96M244.06 67.23H246.96"/><path d="M250.8 62.23H253.7M250.8 82.61H253.7"/><path d="M257.53 54.75H260.43M257.53 76.32H260.43"/><path d="M264.27 62.69H267.17M264.27 80.62H267.17"/><path d="M271.01 33.52H273.91M271.01 65.42H273.91"/><path d="M277.75 34.44H280.64M277.75 58.38H280.64"/><path d="M284.48 38.35H287.38M284.48 56H287.38"/><path d="M291.22 47.57H294.12M291.22 62.08H294.12"/><path d="M297.96 55.38H300.86M297.96 72.63H300.86"/><path d="M304.69 46.71H307.59M304.69 69.06H307.59"/><path d="M311.43 33.65H314.33M311.43 62.23H314.33"/><path d="M318.17 69.11H321.07M318.17 92.56H321.07"/><path d="M324.9 70.73H327.8M324.9 83.29H327.8"/><path d="M331.64 55.96H334.54M331.64 78.17H334.54"/><path d="M338.38 69.08H341.28M338.38 80.35H341.28"/><path d="M345.12 54.68H348.01M345.12 76.39H348.01"/><path d="M351.85 65.84H354.75M351.85 85.12H354.75"/><path d="M358.59 238.1H361.49M358.59 249.9H361.49"/><path d="M365.33 240.59H368.23M365.33 249.9H368.23"/><path d="M372.06 241.43H374.96M372.06 249.9H374.96"/><path d="M378.8 230.48H381.7M378.8 238.72H381.7"/><path d="M412.49 139.53H415.38M412.49 162.9H415.38"/><path d="M419.22 116.1H422.12M419.22 141.96H422.12"/><path d="M425.96 109.68H428.86M425.96 133.08H428.86"/><path d="M432.7 104.11H435.6M432.7 126.41H435.6"/><path d="M439.43 88.75H442.33M439.43 120.35H442.33"/><path d="M446.17 74.37H449.07M446.17 93.42H449.07"/><path d="M452.91 80.84H455.81M452.91 106.84H455.81"/><path d="M459.64 89.89H462.54M459.64 102.38H462.54"/><path d="M466.38 97.71H469.28M466.38 111.39H469.28"/><path d="M473.12 92.07H476.02M473.12 115.5H476.02"/><path d="M479.86 125.73H482.75M479.86 143.04H482.75"/><path d="M486.59 118.25H489.49M486.59 141.34H489.49"/><path d="M493.33 141.53H496.23M493.33 167.02H496.23"/><path d="M500.07 159.01H502.97M500.07 178.61H502.97"/><path d="M506.8 166.94H509.7M506.8 192.1H509.7"/><path d="M513.54 186.77H516.44M513.54 208.99H516.44"/><path d="M520.28 221.87H523.18M520.28 232.03H523.18"/><path d="M527.01 183.61H529.91M527.01 202.97H529.91"/><path d="M533.75 123.94H536.65M533.75 154.01H536.65"/><path d="M540.49 63.74H543.39M540.49 97.93H543.39"/><path d="M547.23 60.67H550.13M547.23 78.05H550.13"/><path d="M553.96 44.84H556.86M553.96 70.93H556.86"/><path d="M560.7 67.84H563.6M560.7 93.83H563.6"/><path d="M567.44 57.71H570.34M567.44 76.42H570.34"/><path d="M574.17 66.92H577.07M574.17 85.57H577.07"/><path d="M580.91 61.86H583.81M580.91 78.39H583.81"/><path d="M587.65 83.58H590.55M587.65 107.16H590.55"/><path d="M594.38 88.29H597.28M594.38 108.57H597.28"/><path d="M601.12 66.06H604.02M601.12 89.49H604.02"/><path d="M607.86 72.46H610.76M607.86 84.62H610.76"/><path d="M614.59 50.49H617.5M614.59 82.11H617.5"/><path d="M621.33 45.84H624.23M621.33 63.81H624.23"/><path d="M628.07 55.3H630.97M628.07 77.3H630.97"/><path d="M634.81 68.16H637.71M634.81 96.57H637.71"/><path d="M641.54 81.37H644.44M641.54 103.25H644.44"/><path d="M648.28 52.96H651.18M648.28 73.52H651.18"/><path d="M655.02 65.58H657.92M655.02 91.5H657.92"/><path d="M661.75 81.4H664.65M661.75 92.51H664.65"/><path d="M668.49 68.91H671.39M668.49 92.76H671.39"/><path d="M675.23 102.89H678.13M675.23 124.57H678.13"/></g>
<polyline points="43.4,233.07 50.14,223.89 56.87,215.47 63.61,197.88 70.35,178.75 77.09,162.69 83.82,131.32 90.56,120.62 97.3,110.67 104.03,102.25 110.77,98.43 117.51,90.78 124.24,73.95 130.98,77.78 137.72,64.77 144.46,73.95 151.19,74.72 157.93,70.89 164.67,77.78 171.4,83.9 178.14,115.26 184.88,160.4 191.61,197.12 198.35,226.95 205.09,193.29 211.83,142.8 218.56,60.94 225.3,62.47 232.04,45.65 238.77,67.06 245.51,59.42 252.25,59.42 258.98,60.94 265.72,56.35 272.46,66.3 279.19,61.71 285.93,65.53 292.67,60.94 299.41,55.59 306.14,47.94 312.88,58.65 319.62,47.94 326.35,55.59 333.09,61.71 339.83,74.72 346.56,57.88 353.3,74.72 360.04,239.19 366.78,230.78 373.51,199.41 380.25,210.88 386.99,249.9" fill="none" stroke="#a8a8a8" stroke-width="0.9" stroke-linejoin="round"/>
<polyline points="407.2,249.9 413.94,166.51 420.67,129.03 427.41,125.97 434.15,96.9 440.88,101.49 447.62,93.84 454.36,92.31 461.09,90.02 467.83,83.13 474.57,82.37 481.31,99.96 488.04,77.01 494.78,119.08 501.52,123.67 508.25,151.22 514.99,184.88 521.73,217.77 528.46,178.75 535.2,119.85 541.94,89.25 548.68,69.36 555.41,74.72 562.15,57.88 568.89,60.18 575.62,66.3 582.36,60.18 589.1,67.06 595.83,52.53 602.57,68.59 609.31,59.42 616.04,70.12 622.78,55.59 629.52,47.94 636.26,67.06 642.99,74.72 649.73,71.66 656.47,68.59 663.2,80.83 669.94,74.72 676.68,109.14" fill="none" stroke="#a8a8a8" stroke-width="0.9" stroke-linejoin="round"/>
<polyline points="43.4,237.66 50.14,232.31 56.87,226.95 63.61,223.12 70.35,215.47 77.09,180.29 83.82,150.45 90.56,135.15 97.3,115.26 104.03,95.37 110.77,95.37 117.51,77.78 124.24,90.78 130.98,73.18 137.72,93.84 144.46,73.18 151.19,72.42 157.93,83.13 164.67,93.84 171.4,98.43 178.14,115.26 184.88,135.15 191.61,178.75 198.35,245.31 205.09,226.19 211.83,173.4 218.56,100.72 225.3,64 232.04,55.59 238.77,86.95 245.51,74.72 252.25,79.3 258.98,86.19 265.72,73.18 272.46,60.18 279.19,46.41 285.93,45.65 292.67,58.65 299.41,78.54 306.14,68.59 312.88,51 319.62,54.82 326.35,56.35 333.09,60.94 339.83,65.53 346.56,59.42 353.3,73.18 360.04,244.55 366.78,245.31 373.51,237.66 380.25,237.66 386.99,249.9" fill="none" stroke="#eca98b" stroke-width="0.9" stroke-linejoin="round"/>
<polyline points="407.2,249.9 413.94,120.62 420.67,116.79 427.41,146.62 434.15,129.03 440.88,113.73 447.62,104.55 454.36,93.84 461.09,84.66 467.83,91.55 474.57,103.78 481.31,102.25 488.04,124.44 494.78,142.8 501.52,135.15 508.25,164.22 514.99,190.23 521.73,204 528.46,175.69 535.2,112.2 541.94,76.25 548.68,73.18 555.41,74.72 562.15,78.54 568.89,76.25 575.62,75.48 582.36,68.59 589.1,84.66 595.83,70.12 602.57,67.06 609.31,86.95 616.04,93.84 622.78,60.94 629.52,76.25 636.26,90.02 642.99,60.94 649.73,54.06 656.47,52.53 663.2,85.43 669.94,83.9 676.68,118.32" fill="none" stroke="#eca98b" stroke-width="0.9" stroke-linejoin="round"/>
<polyline points="43.4,243.78 50.14,225.42 56.87,223.12 63.61,208.59 70.35,200.94 77.09,174.17 83.82,155.04 90.56,136.68 97.3,126.73 104.03,107.61 110.77,123.67 117.51,119.08 124.24,94.6 130.98,77.78 137.72,63.24 144.46,86.95 151.19,90.02 157.93,101.49 164.67,103.78 171.4,101.49 178.14,118.32 184.88,138.21 191.61,173.4 198.35,245.31 205.09,209.36 211.83,143.56 218.56,71.66 225.3,60.18 232.04,54.82 238.77,51.77 245.51,58.65 252.25,54.06 258.98,63.24 265.72,57.88 272.46,51 279.19,46.41 285.93,47.94 292.67,50.23 299.41,50.23 306.14,52.53 312.88,41.82 319.62,57.88 326.35,46.41 333.09,58.65 339.83,65.53 346.56,55.59 353.3,72.42 360.04,243.02 366.78,243.78 373.51,226.19 380.25,222.36 386.99,249.9" fill="none" stroke="#9e1f5c" stroke-width="0.9" stroke-linejoin="round"/>
<polyline points="407.2,249.9 413.94,93.84 420.67,113.73 427.41,106.08 434.15,106.08 440.88,93.07 447.62,113.73 454.36,93.07 461.09,91.55 467.83,108.38 474.57,145.86 481.31,130.56 488.04,136.68 494.78,157.34 501.52,161.16 508.25,199.41 514.99,197.88 521.73,210.12 528.46,164.99 535.2,100.72 541.94,78.54 548.68,69.36 555.41,75.48 562.15,55.59 568.89,69.36 575.62,57.88 582.36,72.42 589.1,70.12 595.83,67.06 602.57,68.59 609.31,62.47 616.04,64 622.78,70.12 629.52,73.18 636.26,60.94 642.99,62.47 649.73,62.47 656.47,71.66 663.2,82.37 669.94,83.9 676.68,124.44" fill="none" stroke="#9e1f5c" stroke-width="0.9" stroke-linejoin="round"/>
<polyline points="43.4,247.61 50.14,243.02 56.87,230.01 63.61,204 70.35,192.53 77.09,155.04 83.82,166.51 90.56,135.15 97.3,98.43 104.03,94.6 110.77,83.9 117.51,90.02 124.24,83.13 130.98,87.72 137.72,71.66 144.46,75.48 151.19,87.72 157.93,90.02 164.67,79.3 171.4,83.9 178.14,116.79 184.88,130.56 191.61,173.4 198.35,245.31 205.09,220.06 211.83,171.87 218.56,83.9 225.3,65.53 232.04,57.12 238.77,67.06 245.51,54.06 252.25,72.42 258.98,65.53 265.72,71.66 272.46,49.47 279.19,46.41 285.93,47.17 292.67,54.82 299.41,64 306.14,57.88 312.88,47.94 319.62,80.83 326.35,77.01 333.09,67.06 339.83,74.72 346.56,65.53 353.3,75.48 360.04,246.46 366.78,246.84 373.51,246.08 380.25,234.6 386.99,249.9" fill="none" stroke="#5a7fab" stroke-width="0.9" stroke-linejoin="round"/>
<polyline points="407.2,249.9 413.94,151.22 420.67,129.03 427.41,121.38 434.15,115.26 440.88,104.55 447.62,83.9 454.36,93.84 461.09,96.13 467.83,104.55 474.57,103.78 481.31,134.38 488.04,129.8 494.78,154.28 501.52,168.81 508.25,179.52 514.99,197.88 521.73,226.95 528.46,193.29 535.2,138.97 541.94,80.83 548.68,69.36 555.41,57.88 562.15,80.83 568.89,67.06 575.62,76.25 582.36,70.12 589.1,95.37 595.83,98.43 602.57,77.78 609.31,78.54 616.04,66.3 622.78,54.82 629.52,66.3 636.26,82.37 642.99,92.31 649.73,63.24 656.47,78.54 663.2,86.95 669.94,80.83 676.68,113.73" fill="none" stroke="#5a7fab" stroke-width="0.9" stroke-linejoin="round"/>
<line x1="72.2" y1="287.3" x2="86.9" y2="287.3" stroke="#a8a8a8" stroke-width="1.5" />
<line x1="78.75" y1="287.3" x2="80.35" y2="287.3" stroke="#cfcfcf" stroke-width="1.5" />
<text transform="translate(91.5 290) scale(0.985 1.12)" font-size="8" text-anchor="start" font-weight="normal" font-style="normal" fill="#231f20"><tspan font-style="italic">CantonS</tspan> (HC)</text>
<line x1="173.8" y1="287.3" x2="188.5" y2="287.3" stroke="#5a7fab" stroke-width="1.5" />
<line x1="180.35" y1="287.3" x2="181.95" y2="287.3" stroke="#cfcfcf" stroke-width="1.5" />
<text transform="translate(193.6 290) scale(0.985 1.12)" font-size="8" text-anchor="start" font-weight="normal" font-style="normal" fill="#231f20"><tspan font-style="italic">CantonS</tspan> (PBS)</text>
<line x1="286.2" y1="287.3" x2="301" y2="287.3" stroke="#9e1f5c" stroke-width="1.5" />
<line x1="292.8" y1="287.3" x2="294.4" y2="287.3" stroke="#cfcfcf" stroke-width="1.5" />
<text transform="translate(305.2 290) scale(0.985 1.12)" font-size="8" text-anchor="start" font-weight="normal" font-style="normal" fill="#231f20"><tspan font-style="italic">CantonS</tspan> (haemocytes from WT larvae)</text>
<line x1="485" y1="287.3" x2="499.3" y2="287.3" stroke="#eca98b" stroke-width="1.5" />
<line x1="491.35" y1="287.3" x2="492.95" y2="287.3" stroke="#cfcfcf" stroke-width="1.5" />
<text transform="translate(502.4 290) scale(0.985 1.12)" font-size="8" text-anchor="start" font-weight="normal" font-style="normal" fill="#231f20"><tspan font-style="italic">CantonS</tspan> (haemocytes from <tspan font-style="italic">eater</tspan><tspan font-size="4.6" dy="-3.2" font-style="italic">1</tspan><tspan dy="3.2"> larvae)</tspan></text>
<text x="0.3" y="304.4" font-size="11.5" text-anchor="start" font-weight="bold" font-style="normal" fill="#000" >b</text>
<rect x="383.3" y="343.4" width="26.7" height="196.7" fill="url(#dots)"/>
<text transform="translate(396.9 336.8) scale(1.01 1.1)" font-size="8" text-anchor="middle" font-weight="normal" font-style="normal" fill="#231f20">Haemocyte&#160; transfer</text>
<text x="0" y="0" font-size="8" text-anchor="middle" font-weight="normal" font-style="normal" fill="#231f20" transform="translate(15.5 425) rotate(-90) scale(1.0 0.95)">Sleep time (min) per 30 min</text>
<line x1="40.3" y1="309.4" x2="40.3" y2="540.1" stroke="#9a9a9a" stroke-width="1" />
<line x1="35.2" y1="540.1" x2="40.3" y2="540.1" stroke="#777" stroke-width="0.8" />
<text transform="translate(32.3 542.4) scale(1 1.07)" font-size="8.2" text-anchor="end" font-weight="normal" font-style="normal" fill="#231f20">0</text>
<line x1="35.2" y1="463.2" x2="40.3" y2="463.2" stroke="#777" stroke-width="0.8" />
<text transform="translate(32.3 465.5) scale(1 1.07)" font-size="8.2" text-anchor="end" font-weight="normal" font-style="normal" fill="#231f20">10</text>
<line x1="35.2" y1="386.3" x2="40.3" y2="386.3" stroke="#777" stroke-width="0.8" />
<text transform="translate(32.3 388.6) scale(1 1.07)" font-size="8.2" text-anchor="end" font-weight="normal" font-style="normal" fill="#231f20">20</text>
<line x1="35.2" y1="309.4" x2="40.3" y2="309.4" stroke="#777" stroke-width="0.8" />
<text transform="translate(32.3 311.7) scale(1 1.07)" font-size="8.2" text-anchor="end" font-weight="normal" font-style="normal" fill="#231f20">30</text>
<line x1="35.2" y1="540.3" x2="683.7" y2="540.3" stroke="#c4c4c4" stroke-width="1.6" />
<line x1="43.4" y1="540.6" x2="43.4" y2="544.7" stroke="#555" stroke-width="0.8" />
<text transform="translate(43.4 555) scale(0.98 1.17)" font-size="7.5" text-anchor="middle" font-weight="normal" font-style="normal" fill="#231f20">1</text>
<line x1="56.95" y1="540.6" x2="56.95" y2="544.7" stroke="#555" stroke-width="0.8" />
<text transform="translate(56.95 555) scale(0.98 1.17)" font-size="7.5" text-anchor="middle" font-weight="normal" font-style="normal" fill="#231f20">2</text>
<line x1="70.51" y1="540.6" x2="70.51" y2="544.7" stroke="#555" stroke-width="0.8" />
<text transform="translate(70.51 555) scale(0.98 1.17)" font-size="7.5" text-anchor="middle" font-weight="normal" font-style="normal" fill="#231f20">3</text>
<line x1="84.06" y1="540.6" x2="84.06" y2="544.7" stroke="#555" stroke-width="0.8" />
<text transform="translate(84.06 555) scale(0.98 1.17)" font-size="7.5" text-anchor="middle" font-weight="normal" font-style="normal" fill="#231f20">4</text>
<line x1="97.62" y1="540.6" x2="97.62" y2="544.7" stroke="#555" stroke-width="0.8" />
<text transform="translate(97.62 555) scale(0.98 1.17)" font-size="7.5" text-anchor="middle" font-weight="normal" font-style="normal" fill="#231f20">5</text>
<line x1="111.17" y1="540.6" x2="111.17" y2="544.7" stroke="#555" stroke-width="0.8" />
<text transform="translate(111.17 555) scale(0.98 1.17)" font-size="7.5" text-anchor="middle" font-weight="normal" font-style="normal" fill="#231f20">6</text>
<line x1="124.72" y1="540.6" x2="124.72" y2="544.7" stroke="#555" stroke-width="0.8" />
<text transform="translate(124.72 555) scale(0.98 1.17)" font-size="7.5" text-anchor="middle" font-weight="normal" font-style="normal" fill="#231f20">7</text>
<line x1="138.28" y1="540.6" x2="138.28" y2="544.7" stroke="#555" stroke-width="0.8" />
<text transform="translate(138.28 555) scale(0.98 1.17)" font-size="7.5" text-anchor="middle" font-weight="normal" font-style="normal" fill="#231f20">8</text>
<line x1="151.83" y1="540.6" x2="151.83" y2="544.7" stroke="#555" stroke-width="0.8" />
<text transform="translate(151.83 555) scale(0.98 1.17)" font-size="7.5" text-anchor="middle" font-weight="normal" font-style="normal" fill="#231f20">9</text>
<line x1="165.39" y1="540.6" x2="165.39" y2="544.7" stroke="#555" stroke-width="0.8" />
<text transform="translate(165.39 555) scale(0.98 1.17)" font-size="7.5" text-anchor="middle" font-weight="normal" font-style="normal" fill="#231f20">10</text>
<line x1="178.94" y1="540.6" x2="178.94" y2="544.7" stroke="#555" stroke-width="0.8" />
<text transform="translate(178.94 555) scale(0.98 1.17)" font-size="7.5" text-anchor="middle" font-weight="normal" font-style="normal" fill="#231f20">11</text>
<line x1="192.49" y1="540.6" x2="192.49" y2="544.7" stroke="#555" stroke-width="0.8" />
<text transform="translate(192.49 555) scale(0.98 1.17)" font-size="7.5" text-anchor="middle" font-weight="normal" font-style="normal" fill="#231f20">12</text>
<line x1="206.05" y1="540.6" x2="206.05" y2="544.7" stroke="#555" stroke-width="0.8" />
<text transform="translate(206.05 555) scale(0.98 1.17)" font-size="7.5" text-anchor="middle" font-weight="normal" font-style="normal" fill="#231f20">13</text>
<line x1="219.6" y1="540.6" x2="219.6" y2="544.7" stroke="#555" stroke-width="0.8" />
<text transform="translate(219.6 555) scale(0.98 1.17)" font-size="7.5" text-anchor="middle" font-weight="normal" font-style="normal" fill="#231f20">14</text>
<line x1="233.16" y1="540.6" x2="233.16" y2="544.7" stroke="#555" stroke-width="0.8" />
<text transform="translate(233.16 555) scale(0.98 1.17)" font-size="7.5" text-anchor="middle" font-weight="normal" font-style="normal" fill="#231f20">15</text>
<line x1="246.71" y1="540.6" x2="246.71" y2="544.7" stroke="#555" stroke-width="0.8" />
<text transform="translate(246.71 555) scale(0.98 1.17)" font-size="7.5" text-anchor="middle" font-weight="normal" font-style="normal" fill="#231f20">16</text>
<line x1="260.26" y1="540.6" x2="260.26" y2="544.7" stroke="#555" stroke-width="0.8" />
<text transform="translate(260.26 555) scale(0.98 1.17)" font-size="7.5" text-anchor="middle" font-weight="normal" font-style="normal" fill="#231f20">17</text>
<line x1="273.82" y1="540.6" x2="273.82" y2="544.7" stroke="#555" stroke-width="0.8" />
<text transform="translate(273.82 555) scale(0.98 1.17)" font-size="7.5" text-anchor="middle" font-weight="normal" font-style="normal" fill="#231f20">18</text>
<line x1="287.37" y1="540.6" x2="287.37" y2="544.7" stroke="#555" stroke-width="0.8" />
<text transform="translate(287.37 555) scale(0.98 1.17)" font-size="7.5" text-anchor="middle" font-weight="normal" font-style="normal" fill="#231f20">19</text>
<line x1="300.93" y1="540.6" x2="300.93" y2="544.7" stroke="#555" stroke-width="0.8" />
<text transform="translate(300.93 555) scale(0.98 1.17)" font-size="7.5" text-anchor="middle" font-weight="normal" font-style="normal" fill="#231f20">20</text>
<line x1="314.48" y1="540.6" x2="314.48" y2="544.7" stroke="#555" stroke-width="0.8" />
<text transform="translate(314.48 555) scale(0.98 1.17)" font-size="7.5" text-anchor="middle" font-weight="normal" font-style="normal" fill="#231f20">21</text>
<line x1="328.03" y1="540.6" x2="328.03" y2="544.7" stroke="#555" stroke-width="0.8" />
<text transform="translate(328.03 555) scale(0.98 1.17)" font-size="7.5" text-anchor="middle" font-weight="normal" font-style="normal" fill="#231f20">22</text>
<line x1="341.59" y1="540.6" x2="341.59" y2="544.7" stroke="#555" stroke-width="0.8" />
<text transform="translate(341.59 555) scale(0.98 1.17)" font-size="7.5" text-anchor="middle" font-weight="normal" font-style="normal" fill="#231f20">23</text>
<line x1="355.14" y1="540.6" x2="355.14" y2="544.7" stroke="#555" stroke-width="0.8" />
<text transform="translate(355.14 555) scale(0.98 1.17)" font-size="7.5" text-anchor="middle" font-weight="normal" font-style="normal" fill="#231f20">24</text>
<line x1="368.7" y1="540.6" x2="368.7" y2="544.7" stroke="#555" stroke-width="0.8" />
<text transform="translate(368.7 555) scale(0.98 1.17)" font-size="7.5" text-anchor="middle" font-weight="normal" font-style="normal" fill="#231f20">1</text>
<line x1="382.25" y1="540.6" x2="382.25" y2="544.7" stroke="#555" stroke-width="0.8" />
<text transform="translate(382.25 555) scale(0.98 1.17)" font-size="7.5" text-anchor="middle" font-weight="normal" font-style="normal" fill="#231f20">2</text>
<line x1="395.8" y1="540.6" x2="395.8" y2="544.7" stroke="#555" stroke-width="0.8" />
<text transform="translate(395.8 555) scale(0.98 1.17)" font-size="7.5" text-anchor="middle" font-weight="normal" font-style="normal" fill="#231f20">3</text>
<line x1="409.36" y1="540.6" x2="409.36" y2="544.7" stroke="#555" stroke-width="0.8" />
<text transform="translate(409.36 555) scale(0.98 1.17)" font-size="7.5" text-anchor="middle" font-weight="normal" font-style="normal" fill="#231f20">4</text>
<line x1="422.91" y1="540.6" x2="422.91" y2="544.7" stroke="#555" stroke-width="0.8" />
<text transform="translate(422.91 555) scale(0.98 1.17)" font-size="7.5" text-anchor="middle" font-weight="normal" font-style="normal" fill="#231f20">5</text>
<line x1="436.47" y1="540.6" x2="436.47" y2="544.7" stroke="#555" stroke-width="0.8" />
<text transform="translate(436.47 555) scale(0.98 1.17)" font-size="7.5" text-anchor="middle" font-weight="normal" font-style="normal" fill="#231f20">6</text>
<line x1="450.02" y1="540.6" x2="450.02" y2="544.7" stroke="#555" stroke-width="0.8" />
<text transform="translate(450.02 555) scale(0.98 1.17)" font-size="7.5" text-anchor="middle" font-weight="normal" font-style="normal" fill="#231f20">7</text>
<line x1="463.57" y1="540.6" x2="463.57" y2="544.7" stroke="#555" stroke-width="0.8" />
<text transform="translate(463.57 555) scale(0.98 1.17)" font-size="7.5" text-anchor="middle" font-weight="normal" font-style="normal" fill="#231f20">8</text>
<line x1="477.13" y1="540.6" x2="477.13" y2="544.7" stroke="#555" stroke-width="0.8" />
<text transform="translate(477.13 555) scale(0.98 1.17)" font-size="7.5" text-anchor="middle" font-weight="normal" font-style="normal" fill="#231f20">9</text>
<line x1="490.68" y1="540.6" x2="490.68" y2="544.7" stroke="#555" stroke-width="0.8" />
<text transform="translate(490.68 555) scale(0.98 1.17)" font-size="7.5" text-anchor="middle" font-weight="normal" font-style="normal" fill="#231f20">10</text>
<line x1="504.24" y1="540.6" x2="504.24" y2="544.7" stroke="#555" stroke-width="0.8" />
<text transform="translate(504.24 555) scale(0.98 1.17)" font-size="7.5" text-anchor="middle" font-weight="normal" font-style="normal" fill="#231f20">11</text>
<line x1="517.79" y1="540.6" x2="517.79" y2="544.7" stroke="#555" stroke-width="0.8" />
<text transform="translate(517.79 555) scale(0.98 1.17)" font-size="7.5" text-anchor="middle" font-weight="normal" font-style="normal" fill="#231f20">12</text>
<line x1="531.34" y1="540.6" x2="531.34" y2="544.7" stroke="#555" stroke-width="0.8" />
<text transform="translate(531.34 555) scale(0.98 1.17)" font-size="7.5" text-anchor="middle" font-weight="normal" font-style="normal" fill="#231f20">13</text>
<line x1="544.9" y1="540.6" x2="544.9" y2="544.7" stroke="#555" stroke-width="0.8" />
<text transform="translate(544.9 555) scale(0.98 1.17)" font-size="7.5" text-anchor="middle" font-weight="normal" font-style="normal" fill="#231f20">14</text>
<line x1="558.45" y1="540.6" x2="558.45" y2="544.7" stroke="#555" stroke-width="0.8" />
<text transform="translate(558.45 555) scale(0.98 1.17)" font-size="7.5" text-anchor="middle" font-weight="normal" font-style="normal" fill="#231f20">15</text>
<line x1="572.01" y1="540.6" x2="572.01" y2="544.7" stroke="#555" stroke-width="0.8" />
<text transform="translate(572.01 555) scale(0.98 1.17)" font-size="7.5" text-anchor="middle" font-weight="normal" font-style="normal" fill="#231f20">16</text>
<line x1="585.56" y1="540.6" x2="585.56" y2="544.7" stroke="#555" stroke-width="0.8" />
<text transform="translate(585.56 555) scale(0.98 1.17)" font-size="7.5" text-anchor="middle" font-weight="normal" font-style="normal" fill="#231f20">17</text>
<line x1="599.11" y1="540.6" x2="599.11" y2="544.7" stroke="#555" stroke-width="0.8" />
<text transform="translate(599.11 555) scale(0.98 1.17)" font-size="7.5" text-anchor="middle" font-weight="normal" font-style="normal" fill="#231f20">18</text>
<line x1="612.67" y1="540.6" x2="612.67" y2="544.7" stroke="#555" stroke-width="0.8" />
<text transform="translate(612.67 555) scale(0.98 1.17)" font-size="7.5" text-anchor="middle" font-weight="normal" font-style="normal" fill="#231f20">19</text>
<line x1="626.22" y1="540.6" x2="626.22" y2="544.7" stroke="#555" stroke-width="0.8" />
<text transform="translate(626.22 555) scale(0.98 1.17)" font-size="7.5" text-anchor="middle" font-weight="normal" font-style="normal" fill="#231f20">20</text>
<line x1="639.78" y1="540.6" x2="639.78" y2="544.7" stroke="#555" stroke-width="0.8" />
<text transform="translate(639.78 555) scale(0.98 1.17)" font-size="7.5" text-anchor="middle" font-weight="normal" font-style="normal" fill="#231f20">21</text>
<line x1="653.33" y1="540.6" x2="653.33" y2="544.7" stroke="#555" stroke-width="0.8" />
<text transform="translate(653.33 555) scale(0.98 1.17)" font-size="7.5" text-anchor="middle" font-weight="normal" font-style="normal" fill="#231f20">22</text>
<line x1="666.88" y1="540.6" x2="666.88" y2="544.7" stroke="#555" stroke-width="0.8" />
<text transform="translate(666.88 555) scale(0.98 1.17)" font-size="7.5" text-anchor="middle" font-weight="normal" font-style="normal" fill="#231f20">23</text>
<line x1="680.44" y1="540.6" x2="680.44" y2="544.7" stroke="#555" stroke-width="0.8" />
<text transform="translate(680.44 555) scale(0.98 1.17)" font-size="7.5" text-anchor="middle" font-weight="normal" font-style="normal" fill="#231f20">24</text>
<rect x="42.67" y="560.77" width="150.65" height="3.05" fill="#fff" stroke="#444" stroke-width="0.75"/>
<rect x="193.7" y="560.4" width="162.5" height="3.8" fill="#000"/>
<rect x="356.2" y="560.77" width="157.4" height="3.05" fill="#fff" stroke="#444" stroke-width="0.75"/>
<rect x="513.6" y="560.4" width="167.7" height="3.8" fill="#000"/>
<g stroke="#a8a8a8" stroke-width="0.85" opacity="0.7" fill="none"><path d="M43.4 521.76V540.1"/><path d="M50.18 527.98V540.1"/><path d="M56.95 518.87V540.1"/><path d="M63.73 517.26V529.1"/><path d="M70.51 512.83V530.46"/><path d="M77.28 512.58V527.63"/><path d="M84.06 512.43V529.32"/><path d="M90.84 516.8V529.56"/><path d="M97.62 502.16V518.05"/><path d="M104.39 496.79V514.2"/><path d="M111.17 507.35V520.56"/><path d="M117.95 498.42V517.19"/><path d="M124.72 498.15V509.77"/><path d="M131.5 495.61V509.23"/><path d="M138.28 502.95V528.03"/><path d="M145.06 515.24V532.66"/><path d="M151.83 520.81V536.32"/><path d="M158.61 516.18V534.79"/><path d="M165.39 519.82V534.24"/><path d="M172.16 524.71V535.49"/><path d="M178.94 525.11V540.1"/><path d="M185.72 527.33V540.1"/><path d="M192.49 529.54V540.1"/><path d="M199.27 513.66V540.1"/><path d="M206.05 456V496.55"/><path d="M212.83 431.84V460.73"/><path d="M219.6 390.25V430.03"/><path d="M226.38 408.55V433.26"/><path d="M233.16 385.7V419.2"/><path d="M239.93 386.1V421.87"/><path d="M246.71 370.37V399.15"/><path d="M253.49 374.69V396.37"/><path d="M260.26 356.12V387.25"/><path d="M267.04 372.35V407.94"/><path d="M273.82 360.33V395.35"/><path d="M280.59 364.79V393.97"/><path d="M287.37 357.73V393.33"/><path d="M294.15 360.57V384.35"/><path d="M300.93 357.46V382.84"/><path d="M307.7 370.19V402.41"/><path d="M314.48 385.76V423.75"/><path d="M321.26 387.39V409.82"/><path d="M328.03 402.07V421.29"/><path d="M334.81 393.62V412.81"/><path d="M341.59 404.1V425.41"/><path d="M348.37 421.07V446.89"/><path d="M355.14 426.68V461.27"/><path d="M361.92 524.79V540.1"/><path d="M368.7 526.82V540.1"/><path d="M375.47 524.26V537.48"/><path d="M382.25 527.02V540.1"/><path d="M416.13 528.12V540.1"/><path d="M422.91 519.76V540.1"/><path d="M429.69 511.72V530.03"/><path d="M436.47 516.77V529.6"/><path d="M443.24 516.17V528.65"/><path d="M450.02 498.49V526.34"/><path d="M456.8 485.81V508.26"/><path d="M463.57 493.99V521.61"/><path d="M470.35 510.36V523.7"/><path d="M477.13 501.33V520.43"/><path d="M483.9 496.53V523.69"/><path d="M490.68 514.4V536.58"/><path d="M497.46 521.37V540.1"/><path d="M504.24 527.05V537.77"/><path d="M511.01 521.18V540.1"/><path d="M517.79 533.59V540.1"/><path d="M524.57 504.39V528.13"/><path d="M531.34 483.81V501.03"/><path d="M538.12 410.52V452.83"/><path d="M544.9 398.42V435.7"/><path d="M551.68 383.78V427.27"/><path d="M558.45 379.71V419.03"/><path d="M565.23 401.39V440.42"/><path d="M572.01 395.64V427.71"/><path d="M578.78 377.74V427.16"/><path d="M585.56 358.41V398.81"/><path d="M592.34 373.32V400.82"/><path d="M599.11 366.9V408.78"/><path d="M605.89 379.31V405.6"/><path d="M612.67 372.18V398.88"/><path d="M619.44 356.05V378.1"/><path d="M626.22 360.71V391.9"/><path d="M633 346.53V372.24"/><path d="M639.78 342.45V393.24"/><path d="M646.55 364.36V409.78"/><path d="M653.33 373.93V397.14"/><path d="M660.11 378.47V401.82"/><path d="M666.88 391.91V423.76"/><path d="M673.66 395.24V418.88"/><path d="M680.44 412.99V444.2"/></g><g stroke="#a8a8a8" stroke-width="1.1" opacity="0.85" fill="none"><path d="M41.95 521.76H44.85M41.95 540.1H44.85"/><path d="M48.73 527.98H51.63M48.73 540.1H51.63"/><path d="M55.5 518.87H58.4M55.5 540.1H58.4"/><path d="M62.28 517.26H65.18M62.28 529.1H65.18"/><path d="M69.06 512.83H71.96M69.06 530.46H71.96"/><path d="M75.83 512.58H78.73M75.83 527.63H78.73"/><path d="M82.61 512.43H85.51M82.61 529.32H85.51"/><path d="M89.39 516.8H92.29M89.39 529.56H92.29"/><path d="M96.17 502.16H99.07M96.17 518.05H99.07"/><path d="M102.94 496.79H105.84M102.94 514.2H105.84"/><path d="M109.72 507.35H112.62M109.72 520.56H112.62"/><path d="M116.5 498.42H119.4M116.5 517.19H119.4"/><path d="M123.27 498.15H126.17M123.27 509.77H126.17"/><path d="M130.05 495.61H132.95M130.05 509.23H132.95"/><path d="M136.83 502.95H139.73M136.83 528.03H139.73"/><path d="M143.61 515.24H146.5M143.61 532.66H146.5"/><path d="M150.38 520.81H153.28M150.38 536.32H153.28"/><path d="M157.16 516.18H160.06M157.16 534.79H160.06"/><path d="M163.94 519.82H166.84M163.94 534.24H166.84"/><path d="M170.71 524.71H173.61M170.71 535.49H173.61"/><path d="M177.49 525.11H180.39M177.49 540.1H180.39"/><path d="M184.27 527.33H187.17M184.27 540.1H187.17"/><path d="M191.04 529.54H193.94M191.04 540.1H193.94"/><path d="M197.82 513.66H200.72M197.82 540.1H200.72"/><path d="M204.6 456H207.5M204.6 496.55H207.5"/><path d="M211.38 431.84H214.28M211.38 460.73H214.28"/><path d="M218.15 390.25H221.05M218.15 430.03H221.05"/><path d="M224.93 408.55H227.83M224.93 433.26H227.83"/><path d="M231.71 385.7H234.61M231.71 419.2H234.61"/><path d="M238.48 386.1H241.38M238.48 421.87H241.38"/><path d="M245.26 370.37H248.16M245.26 399.15H248.16"/><path d="M252.04 374.69H254.94M252.04 396.37H254.94"/><path d="M258.81 356.12H261.71M258.81 387.25H261.71"/><path d="M265.59 372.35H268.49M265.59 407.94H268.49"/><path d="M272.37 360.33H275.27M272.37 395.35H275.27"/><path d="M279.14 364.79H282.04M279.14 393.97H282.04"/><path d="M285.92 357.73H288.82M285.92 393.33H288.82"/><path d="M292.7 360.57H295.6M292.7 384.35H295.6"/><path d="M299.48 357.46H302.38M299.48 382.84H302.38"/><path d="M306.25 370.19H309.15M306.25 402.41H309.15"/><path d="M313.03 385.76H315.93M313.03 423.75H315.93"/><path d="M319.81 387.39H322.71M319.81 409.82H322.71"/><path d="M326.58 402.07H329.48M326.58 421.29H329.48"/><path d="M333.36 393.62H336.26M333.36 412.81H336.26"/><path d="M340.14 404.1H343.04M340.14 425.41H343.04"/><path d="M346.92 421.07H349.81M346.92 446.89H349.81"/><path d="M353.69 426.68H356.59M353.69 461.27H356.59"/><path d="M360.47 524.79H363.37M360.47 540.1H363.37"/><path d="M367.25 526.82H370.15M367.25 540.1H370.15"/><path d="M374.02 524.26H376.92M374.02 537.48H376.92"/><path d="M380.8 527.02H383.7M380.8 540.1H383.7"/><path d="M414.69 528.12H417.58M414.69 540.1H417.58"/><path d="M421.46 519.76H424.36M421.46 540.1H424.36"/><path d="M428.24 511.72H431.14M428.24 530.03H431.14"/><path d="M435.02 516.77H437.92M435.02 529.6H437.92"/><path d="M441.79 516.17H444.69M441.79 528.65H444.69"/><path d="M448.57 498.49H451.47M448.57 526.34H451.47"/><path d="M455.35 485.81H458.25M455.35 508.26H458.25"/><path d="M462.12 493.99H465.02M462.12 521.61H465.02"/><path d="M468.9 510.36H471.8M468.9 523.7H471.8"/><path d="M475.68 501.33H478.58M475.68 520.43H478.58"/><path d="M482.45 496.53H485.35M482.45 523.69H485.35"/><path d="M489.23 514.4H492.13M489.23 536.58H492.13"/><path d="M496.01 521.37H498.91M496.01 540.1H498.91"/><path d="M502.79 527.05H505.69M502.79 537.77H505.69"/><path d="M509.56 521.18H512.46M509.56 540.1H512.46"/><path d="M516.34 533.59H519.24M516.34 540.1H519.24"/><path d="M523.12 504.39H526.02M523.12 528.13H526.02"/><path d="M529.89 483.81H532.79M529.89 501.03H532.79"/><path d="M536.67 410.52H539.57M536.67 452.83H539.57"/><path d="M543.45 398.42H546.35M543.45 435.7H546.35"/><path d="M550.23 383.78H553.13M550.23 427.27H553.13"/><path d="M557 379.71H559.9M557 419.03H559.9"/><path d="M563.78 401.39H566.68M563.78 440.42H566.68"/><path d="M570.56 395.64H573.46M570.56 427.71H573.46"/><path d="M577.33 377.74H580.23M577.33 427.16H580.23"/><path d="M584.11 358.41H587.01M584.11 398.81H587.01"/><path d="M590.89 373.32H593.79M590.89 400.82H593.79"/><path d="M597.66 366.9H600.56M597.66 408.78H600.56"/><path d="M604.44 379.31H607.34M604.44 405.6H607.34"/><path d="M611.22 372.18H614.12M611.22 398.88H614.12"/><path d="M617.99 356.05H620.89M617.99 378.1H620.89"/><path d="M624.77 360.71H627.67M624.77 391.9H627.67"/><path d="M631.55 346.53H634.45M631.55 372.24H634.45"/><path d="M638.33 342.45H641.23M638.33 393.24H641.23"/><path d="M645.1 364.36H648M645.1 409.78H648"/><path d="M651.88 373.93H654.78M651.88 397.14H654.78"/><path d="M658.66 378.47H661.56M658.66 401.82H661.56"/><path d="M665.43 391.91H668.33M665.43 423.76H668.33"/><path d="M672.21 395.24H675.11M672.21 418.88H675.11"/><path d="M678.99 412.99H681.89M678.99 444.2H681.89"/></g>
<g stroke="#eca98b" stroke-width="0.85" opacity="0.7" fill="none"><path d="M43.4 527.25V540.1"/><path d="M50.18 529.08V540.1"/><path d="M56.95 520.78V537.88"/><path d="M63.73 510.8V532.49"/><path d="M70.51 518.36V534.15"/><path d="M77.28 508.68V523.84"/><path d="M84.06 510.61V532.68"/><path d="M90.84 498.9V524.39"/><path d="M97.62 493.23V519.3"/><path d="M104.39 490.56V511.2"/><path d="M111.17 497.45V513.54"/><path d="M117.95 488.71V513.05"/><path d="M124.72 478.56V504.74"/><path d="M131.5 498.3V520.38"/><path d="M138.28 496.98V510.93"/><path d="M145.06 501V516.14"/><path d="M151.83 499.75V517.4"/><path d="M158.61 505.74V528.32"/><path d="M165.39 508.95V528.19"/><path d="M172.16 517.23V536.82"/><path d="M178.94 523.67V540.1"/><path d="M185.72 529.4V540.04"/><path d="M192.49 529.3V540.1"/><path d="M199.27 512.86V533.5"/><path d="M206.05 489.98V517.93"/><path d="M212.83 457.6V494.95"/><path d="M219.6 435.72V461.46"/><path d="M226.38 403.66V450.45"/><path d="M233.16 399.04V419.7"/><path d="M239.93 394.86V423.88"/><path d="M246.71 391.75V420.84"/><path d="M253.49 402.18V424.25"/><path d="M260.26 398.49V426.4"/><path d="M267.04 399.72V426.71"/><path d="M273.82 402.83V431.29"/><path d="M280.59 412.67V442.98"/><path d="M287.37 404.67V423.3"/><path d="M294.15 396.07V422.67"/><path d="M300.93 385.17V421.26"/><path d="M307.7 391.08V412.28"/><path d="M314.48 391.31V432.05"/><path d="M321.26 409.13V434.22"/><path d="M328.03 422.93V460.4"/><path d="M334.81 450.58V468.13"/><path d="M341.59 436.68V462.03"/><path d="M348.37 460.04V487.89"/><path d="M355.14 492.69V510.61"/><path d="M361.92 526.18V540.1"/><path d="M368.7 531V540.1"/><path d="M375.47 528.88V540.1"/><path d="M382.25 530.56V540.1"/><path d="M416.13 451.99V483.64"/><path d="M422.91 436.03V467.3"/><path d="M429.69 422.52V446.98"/><path d="M436.47 414.05V449.29"/><path d="M443.24 417.73V434.85"/><path d="M450.02 412.17V448.1"/><path d="M456.8 420.14V455.5"/><path d="M463.57 428.86V459.09"/><path d="M470.35 448.35V484.2"/><path d="M477.13 461.76V493.86"/><path d="M483.9 487.54V512.68"/><path d="M490.68 489.45V510.78"/><path d="M497.46 522.68V540.1"/><path d="M504.24 527.18V540.1"/><path d="M511.01 529.88V540.1"/><path d="M517.79 527.66V540.1"/><path d="M524.57 523.61V540.1"/><path d="M531.34 495.03V519.03"/><path d="M538.12 457.66V485.65"/><path d="M544.9 426.76V467.34"/><path d="M551.68 408.83V442.2"/><path d="M558.45 396.66V425.15"/><path d="M565.23 415.52V440.14"/><path d="M572.01 422.4V445.55"/><path d="M578.78 433.82V452.59"/><path d="M585.56 443.19V461.68"/><path d="M592.34 437.84V459.34"/><path d="M599.11 420.39V455.26"/><path d="M605.89 423.06V447.97"/><path d="M612.67 426.26V444.77"/><path d="M619.44 409.93V439.57"/><path d="M626.22 403.74V424.23"/><path d="M633 397.18V427.72"/><path d="M639.78 410.35V437.61"/><path d="M646.55 406.99V444.05"/><path d="M653.33 427.79V449.4"/><path d="M660.11 420.29V453.82"/><path d="M666.88 434.13V459.97"/><path d="M673.66 456.68V497.4"/><path d="M680.44 482.2V507.26"/></g><g stroke="#eca98b" stroke-width="1.1" opacity="0.85" fill="none"><path d="M41.95 527.25H44.85M41.95 540.1H44.85"/><path d="M48.73 529.08H51.63M48.73 540.1H51.63"/><path d="M55.5 520.78H58.4M55.5 537.88H58.4"/><path d="M62.28 510.8H65.18M62.28 532.49H65.18"/><path d="M69.06 518.36H71.96M69.06 534.15H71.96"/><path d="M75.83 508.68H78.73M75.83 523.84H78.73"/><path d="M82.61 510.61H85.51M82.61 532.68H85.51"/><path d="M89.39 498.9H92.29M89.39 524.39H92.29"/><path d="M96.17 493.23H99.07M96.17 519.3H99.07"/><path d="M102.94 490.56H105.84M102.94 511.2H105.84"/><path d="M109.72 497.45H112.62M109.72 513.54H112.62"/><path d="M116.5 488.71H119.4M116.5 513.05H119.4"/><path d="M123.27 478.56H126.17M123.27 504.74H126.17"/><path d="M130.05 498.3H132.95M130.05 520.38H132.95"/><path d="M136.83 496.98H139.73M136.83 510.93H139.73"/><path d="M143.61 501H146.5M143.61 516.14H146.5"/><path d="M150.38 499.75H153.28M150.38 517.4H153.28"/><path d="M157.16 505.74H160.06M157.16 528.32H160.06"/><path d="M163.94 508.95H166.84M163.94 528.19H166.84"/><path d="M170.71 517.23H173.61M170.71 536.82H173.61"/><path d="M177.49 523.67H180.39M177.49 540.1H180.39"/><path d="M184.27 529.4H187.17M184.27 540.04H187.17"/><path d="M191.04 529.3H193.94M191.04 540.1H193.94"/><path d="M197.82 512.86H200.72M197.82 533.5H200.72"/><path d="M204.6 489.98H207.5M204.6 517.93H207.5"/><path d="M211.38 457.6H214.28M211.38 494.95H214.28"/><path d="M218.15 435.72H221.05M218.15 461.46H221.05"/><path d="M224.93 403.66H227.83M224.93 450.45H227.83"/><path d="M231.71 399.04H234.61M231.71 419.7H234.61"/><path d="M238.48 394.86H241.38M238.48 423.88H241.38"/><path d="M245.26 391.75H248.16M245.26 420.84H248.16"/><path d="M252.04 402.18H254.94M252.04 424.25H254.94"/><path d="M258.81 398.49H261.71M258.81 426.4H261.71"/><path d="M265.59 399.72H268.49M265.59 426.71H268.49"/><path d="M272.37 402.83H275.27M272.37 431.29H275.27"/><path d="M279.14 412.67H282.04M279.14 442.98H282.04"/><path d="M285.92 404.67H288.82M285.92 423.3H288.82"/><path d="M292.7 396.07H295.6M292.7 422.67H295.6"/><path d="M299.48 385.17H302.38M299.48 421.26H302.38"/><path d="M306.25 391.08H309.15M306.25 412.28H309.15"/><path d="M313.03 391.31H315.93M313.03 432.05H315.93"/><path d="M319.81 409.13H322.71M319.81 434.22H322.71"/><path d="M326.58 422.93H329.48M326.58 460.4H329.48"/><path d="M333.36 450.58H336.26M333.36 468.13H336.26"/><path d="M340.14 436.68H343.04M340.14 462.03H343.04"/><path d="M346.92 460.04H349.81M346.92 487.89H349.81"/><path d="M353.69 492.69H356.59M353.69 510.61H356.59"/><path d="M360.47 526.18H363.37M360.47 540.1H363.37"/><path d="M367.25 531H370.15M367.25 540.1H370.15"/><path d="M374.02 528.88H376.92M374.02 540.1H376.92"/><path d="M380.8 530.56H383.7M380.8 540.1H383.7"/><path d="M414.69 451.99H417.58M414.69 483.64H417.58"/><path d="M421.46 436.03H424.36M421.46 467.3H424.36"/><path d="M428.24 422.52H431.14M428.24 446.98H431.14"/><path d="M435.02 414.05H437.92M435.02 449.29H437.92"/><path d="M441.79 417.73H444.69M441.79 434.85H444.69"/><path d="M448.57 412.17H451.47M448.57 448.1H451.47"/><path d="M455.35 420.14H458.25M455.35 455.5H458.25"/><path d="M462.12 428.86H465.02M462.12 459.09H465.02"/><path d="M468.9 448.35H471.8M468.9 484.2H471.8"/><path d="M475.68 461.76H478.58M475.68 493.86H478.58"/><path d="M482.45 487.54H485.35M482.45 512.68H485.35"/><path d="M489.23 489.45H492.13M489.23 510.78H492.13"/><path d="M496.01 522.68H498.91M496.01 540.1H498.91"/><path d="M502.79 527.18H505.69M502.79 540.1H505.69"/><path d="M509.56 529.88H512.46M509.56 540.1H512.46"/><path d="M516.34 527.66H519.24M516.34 540.1H519.24"/><path d="M523.12 523.61H526.02M523.12 540.1H526.02"/><path d="M529.89 495.03H532.79M529.89 519.03H532.79"/><path d="M536.67 457.66H539.57M536.67 485.65H539.57"/><path d="M543.45 426.76H546.35M543.45 467.34H546.35"/><path d="M550.23 408.83H553.13M550.23 442.2H553.13"/><path d="M557 396.66H559.9M557 425.15H559.9"/><path d="M563.78 415.52H566.68M563.78 440.14H566.68"/><path d="M570.56 422.4H573.46M570.56 445.55H573.46"/><path d="M577.33 433.82H580.23M577.33 452.59H580.23"/><path d="M584.11 443.19H587.01M584.11 461.68H587.01"/><path d="M590.89 437.84H593.79M590.89 459.34H593.79"/><path d="M597.66 420.39H600.56M597.66 455.26H600.56"/><path d="M604.44 423.06H607.34M604.44 447.97H607.34"/><path d="M611.22 426.26H614.12M611.22 444.77H614.12"/><path d="M617.99 409.93H620.89M617.99 439.57H620.89"/><path d="M624.77 403.74H627.67M624.77 424.23H627.67"/><path d="M631.55 397.18H634.45M631.55 427.72H634.45"/><path d="M638.33 410.35H641.23M638.33 437.61H641.23"/><path d="M645.1 406.99H648M645.1 444.05H648"/><path d="M651.88 427.79H654.78M651.88 449.4H654.78"/><path d="M658.66 420.29H661.56M658.66 453.82H661.56"/><path d="M665.43 434.13H668.33M665.43 459.97H668.33"/><path d="M672.21 456.68H675.11M672.21 497.4H675.11"/><path d="M678.99 482.2H681.89M678.99 507.26H681.89"/></g>
<g stroke="#9e1f5c" stroke-width="0.85" opacity="0.7" fill="none"><path d="M43.4 532.42V540.1"/><path d="M50.18 526.46V540.1"/><path d="M56.95 530.34V540.1"/><path d="M63.73 527.33V540.1"/><path d="M70.51 520.87V533.19"/><path d="M77.28 515.07V537.45"/><path d="M84.06 510.86V523.2"/><path d="M90.84 506.87V527.19"/><path d="M97.62 505.44V520.93"/><path d="M104.39 505.12V525.87"/><path d="M111.17 496.58V514.41"/><path d="M117.95 492.25V504.9"/><path d="M124.72 497.29V522.92"/><path d="M131.5 497.47V519.68"/><path d="M138.28 491.82V505.33"/><path d="M145.06 493.92V520.15"/><path d="M151.83 493.22V519.31"/><path d="M158.61 509.28V524.78"/><path d="M165.39 519.87V531.11"/><path d="M172.16 520.11V538.56"/><path d="M178.94 528.35V539.55"/><path d="M185.72 525.54V540.1"/><path d="M192.49 529.58V540.1"/><path d="M199.27 501.41V531.12"/><path d="M206.05 460.72V491.82"/><path d="M212.83 444.83V481.57"/><path d="M219.6 420.04V460.22"/><path d="M226.38 413.78V444.94"/><path d="M233.16 409.93V438.03"/><path d="M239.93 415.11V437.47"/><path d="M246.71 410.29V431.52"/><path d="M253.49 399.44V417.76"/><path d="M260.26 402.82V437.46"/><path d="M267.04 403.07V423.36"/><path d="M273.82 403.98V436.29"/><path d="M280.59 438.62V458.56"/><path d="M287.37 402.55V440.8"/><path d="M294.15 395.79V424.48"/><path d="M300.93 398.33V435.79"/><path d="M307.7 408.98V435.91"/><path d="M314.48 416.25V440.94"/><path d="M321.26 416.13V451.82"/><path d="M328.03 445.81V472.9"/><path d="M334.81 416.67V457.44"/><path d="M341.59 421.54V444.88"/><path d="M348.37 402.46V447.04"/><path d="M355.14 448.47V490.23"/><path d="M361.92 514.25V540.1"/><path d="M368.7 526.38V536.9"/><path d="M375.47 525.36V538.69"/><path d="M382.25 521.91V540.1"/><path d="M416.13 410.22V453.12"/><path d="M422.91 405.1V427.49"/><path d="M429.69 377.79V408.66"/><path d="M436.47 375.09V414.43"/><path d="M443.24 395.69V432.28"/><path d="M450.02 397.15V424.66"/><path d="M456.8 402.12V425.85"/><path d="M463.57 417.75V440.98"/><path d="M470.35 405.33V424.18"/><path d="M477.13 427.86V453.94"/><path d="M483.9 427.78V458.63"/><path d="M490.68 462.65V499.13"/><path d="M497.46 475.75V502.94"/><path d="M504.24 496.67V518.93"/><path d="M511.01 510.44V525.16"/><path d="M517.79 509.77V525.83"/><path d="M524.57 491.23V521.3"/><path d="M531.34 454.94V483.77"/><path d="M538.12 439.44V460.81"/><path d="M544.9 428.88V459.07"/><path d="M551.68 435V460.64"/><path d="M558.45 422.68V456.04"/><path d="M565.23 437.28V461.43"/><path d="M572.01 425.01V458.33"/><path d="M578.78 407.75V435.6"/><path d="M585.56 411.07V439.97"/><path d="M592.34 406.57V447.54"/><path d="M599.11 426.53V470.65"/><path d="M605.89 446.86V481.08"/><path d="M612.67 394.72V428.63"/><path d="M619.44 416.21V434.82"/><path d="M626.22 405.08V445.96"/><path d="M633 380V414.13"/><path d="M639.78 370.54V398.99"/><path d="M646.55 394.63V416.42"/><path d="M653.33 402.32V421.03"/><path d="M660.11 376.71V408.2"/><path d="M666.88 364.16V409.98"/><path d="M673.66 387.82V430.92"/><path d="M680.44 426.85V464.17"/></g><g stroke="#9e1f5c" stroke-width="1.1" opacity="0.85" fill="none"><path d="M41.95 532.42H44.85M41.95 540.1H44.85"/><path d="M48.73 526.46H51.63M48.73 540.1H51.63"/><path d="M55.5 530.34H58.4M55.5 540.1H58.4"/><path d="M62.28 527.33H65.18M62.28 540.1H65.18"/><path d="M69.06 520.87H71.96M69.06 533.19H71.96"/><path d="M75.83 515.07H78.73M75.83 537.45H78.73"/><path d="M82.61 510.86H85.51M82.61 523.2H85.51"/><path d="M89.39 506.87H92.29M89.39 527.19H92.29"/><path d="M96.17 505.44H99.07M96.17 520.93H99.07"/><path d="M102.94 505.12H105.84M102.94 525.87H105.84"/><path d="M109.72 496.58H112.62M109.72 514.41H112.62"/><path d="M116.5 492.25H119.4M116.5 504.9H119.4"/><path d="M123.27 497.29H126.17M123.27 522.92H126.17"/><path d="M130.05 497.47H132.95M130.05 519.68H132.95"/><path d="M136.83 491.82H139.73M136.83 505.33H139.73"/><path d="M143.61 493.92H146.5M143.61 520.15H146.5"/><path d="M150.38 493.22H153.28M150.38 519.31H153.28"/><path d="M157.16 509.28H160.06M157.16 524.78H160.06"/><path d="M163.94 519.87H166.84M163.94 531.11H166.84"/><path d="M170.71 520.11H173.61M170.71 538.56H173.61"/><path d="M177.49 528.35H180.39M177.49 539.55H180.39"/><path d="M184.27 525.54H187.17M184.27 540.1H187.17"/><path d="M191.04 529.58H193.94M191.04 540.1H193.94"/><path d="M197.82 501.41H200.72M197.82 531.12H200.72"/><path d="M204.6 460.72H207.5M204.6 491.82H207.5"/><path d="M211.38 444.83H214.28M211.38 481.57H214.28"/><path d="M218.15 420.04H221.05M218.15 460.22H221.05"/><path d="M224.93 413.78H227.83M224.93 444.94H227.83"/><path d="M231.71 409.93H234.61M231.71 438.03H234.61"/><path d="M238.48 415.11H241.38M238.48 437.47H241.38"/><path d="M245.26 410.29H248.16M245.26 431.52H248.16"/><path d="M252.04 399.44H254.94M252.04 417.76H254.94"/><path d="M258.81 402.82H261.71M258.81 437.46H261.71"/><path d="M265.59 403.07H268.49M265.59 423.36H268.49"/><path d="M272.37 403.98H275.27M272.37 436.29H275.27"/><path d="M279.14 438.62H282.04M279.14 458.56H282.04"/><path d="M285.92 402.55H288.82M285.92 440.8H288.82"/><path d="M292.7 395.79H295.6M292.7 424.48H295.6"/><path d="M299.48 398.33H302.38M299.48 435.79H302.38"/><path d="M306.25 408.98H309.15M306.25 435.91H309.15"/><path d="M313.03 416.25H315.93M313.03 440.94H315.93"/><path d="M319.81 416.13H322.71M319.81 451.82H322.71"/><path d="M326.58 445.81H329.48M326.58 472.9H329.48"/><path d="M333.36 416.67H336.26M333.36 457.44H336.26"/><path d="M340.14 421.54H343.04M340.14 444.88H343.04"/><path d="M346.92 402.46H349.81M346.92 447.04H349.81"/><path d="M353.69 448.47H356.59M353.69 490.23H356.59"/><path d="M360.47 514.25H363.37M360.47 540.1H363.37"/><path d="M367.25 526.38H370.15M367.25 536.9H370.15"/><path d="M374.02 525.36H376.92M374.02 538.69H376.92"/><path d="M380.8 521.91H383.7M380.8 540.1H383.7"/><path d="M414.69 410.22H417.58M414.69 453.12H417.58"/><path d="M421.46 405.1H424.36M421.46 427.49H424.36"/><path d="M428.24 377.79H431.14M428.24 408.66H431.14"/><path d="M435.02 375.09H437.92M435.02 414.43H437.92"/><path d="M441.79 395.69H444.69M441.79 432.28H444.69"/><path d="M448.57 397.15H451.47M448.57 424.66H451.47"/><path d="M455.35 402.12H458.25M455.35 425.85H458.25"/><path d="M462.12 417.75H465.02M462.12 440.98H465.02"/><path d="M468.9 405.33H471.8M468.9 424.18H471.8"/><path d="M475.68 427.86H478.58M475.68 453.94H478.58"/><path d="M482.45 427.78H485.35M482.45 458.63H485.35"/><path d="M489.23 462.65H492.13M489.23 499.13H492.13"/><path d="M496.01 475.75H498.91M496.01 502.94H498.91"/><path d="M502.79 496.67H505.69M502.79 518.93H505.69"/><path d="M509.56 510.44H512.46M509.56 525.16H512.46"/><path d="M516.34 509.77H519.24M516.34 525.83H519.24"/><path d="M523.12 491.23H526.02M523.12 521.3H526.02"/><path d="M529.89 454.94H532.79M529.89 483.77H532.79"/><path d="M536.67 439.44H539.57M536.67 460.81H539.57"/><path d="M543.45 428.88H546.35M543.45 459.07H546.35"/><path d="M550.23 435H553.13M550.23 460.64H553.13"/><path d="M557 422.68H559.9M557 456.04H559.9"/><path d="M563.78 437.28H566.68M563.78 461.43H566.68"/><path d="M570.56 425.01H573.46M570.56 458.33H573.46"/><path d="M577.33 407.75H580.23M577.33 435.6H580.23"/><path d="M584.11 411.07H587.01M584.11 439.97H587.01"/><path d="M590.89 406.57H593.79M590.89 447.54H593.79"/><path d="M597.66 426.53H600.56M597.66 470.65H600.56"/><path d="M604.44 446.86H607.34M604.44 481.08H607.34"/><path d="M611.22 394.72H614.12M611.22 428.63H614.12"/><path d="M617.99 416.21H620.89M617.99 434.82H620.89"/><path d="M624.77 405.08H627.67M624.77 445.96H627.67"/><path d="M631.55 380H634.45M631.55 414.13H634.45"/><path d="M638.33 370.54H641.23M638.33 398.99H641.23"/><path d="M645.1 394.63H648M645.1 416.42H648"/><path d="M651.88 402.32H654.78M651.88 421.03H654.78"/><path d="M658.66 376.71H661.56M658.66 408.2H661.56"/><path d="M665.43 364.16H668.33M665.43 409.98H668.33"/><path d="M672.21 387.82H675.11M672.21 430.92H675.11"/><path d="M678.99 426.85H681.89M678.99 464.17H681.89"/></g>
<g stroke="#5a7fab" stroke-width="0.85" opacity="0.7" fill="none"><path d="M43.4 529.7V540.1"/><path d="M50.18 532.16V540.1"/><path d="M56.95 525.04V536.7"/><path d="M63.73 525.63V540.1"/><path d="M70.51 521.08V532.98"/><path d="M77.28 510.66V531.09"/><path d="M84.06 504.17V522.2"/><path d="M90.84 506.4V524.59"/><path d="M97.62 512.22V524.91"/><path d="M104.39 519.09V530.35"/><path d="M111.17 516.1V536.42"/><path d="M117.95 493.73V509.57"/><path d="M124.72 497.38V518.23"/><path d="M131.5 500.74V516.4"/><path d="M138.28 502.5V525.4"/><path d="M145.06 517.49V536.56"/><path d="M151.83 507.37V526.69"/><path d="M158.61 525.69V540.1"/><path d="M165.39 517.39V530.51"/><path d="M172.16 518.52V533.99"/><path d="M178.94 523.32V540.1"/><path d="M185.72 524.06V536.15"/><path d="M192.49 527.74V540.1"/><path d="M199.27 515.71V539.88"/><path d="M206.05 477.18V506.12"/><path d="M212.83 441.79V479.99"/><path d="M219.6 419.56V446.86"/><path d="M226.38 408.56V445.55"/><path d="M233.16 417.36V433.68"/><path d="M239.93 415.67V447.68"/><path d="M246.71 405.23V435.04"/><path d="M253.49 403.74V439.61"/><path d="M260.26 416.11V436.47"/><path d="M267.04 390.48V428.26"/><path d="M273.82 381.13V422.23"/><path d="M280.59 380.23V416.98"/><path d="M287.37 411.1V429.18"/><path d="M294.15 377.84V422.45"/><path d="M300.93 376.31V417.82"/><path d="M307.7 381.81V401.56"/><path d="M314.48 376.28V417.85"/><path d="M321.26 401.66V421.69"/><path d="M328.03 401.58V421.78"/><path d="M334.81 409.57V444.54"/><path d="M341.59 409.5V440"/><path d="M348.37 409.58V449.15"/><path d="M355.14 423.47V459.86"/><path d="M361.92 527.65V540.1"/><path d="M368.7 527.88V540.1"/><path d="M375.47 517.39V533.59"/><path d="M382.25 522.66V540.1"/><path d="M416.13 450.89V484.74"/><path d="M422.91 434.2V466.06"/><path d="M429.69 451.39V470.4"/><path d="M436.47 449.47V478.47"/><path d="M443.24 459.93V486.46"/><path d="M450.02 464.56V478.75"/><path d="M456.8 463.81V490.28"/><path d="M463.57 466.48V484.53"/><path d="M470.35 483.96V503.96"/><path d="M477.13 499.72V512.81"/><path d="M483.9 496.11V516.41"/><path d="M490.68 496.6V509.78"/><path d="M497.46 496.32V523.9"/><path d="M504.24 510.17V522.35"/><path d="M511.01 517V537.05"/><path d="M517.79 509.87V530.34"/><path d="M524.57 510.28V534.55"/><path d="M531.34 474.46V504.23"/><path d="M538.12 449.25V483.3"/><path d="M544.9 449.11V477.29"/><path d="M551.68 439.97V460.29"/><path d="M558.45 422.51V456.21"/><path d="M565.23 452.3V475.64"/><path d="M572.01 448.18V472.07"/><path d="M578.78 455.09V477.46"/><path d="M585.56 448.68V479.26"/><path d="M592.34 446.83V471.88"/><path d="M599.11 425.98V460.43"/><path d="M605.89 436.1V454.92"/><path d="M612.67 409.04V435.85"/><path d="M619.44 407.79V437.1"/><path d="M626.22 404.26V439.08"/><path d="M633 376.8V415.8"/><path d="M639.78 399.24V422.58"/><path d="M646.55 391.53V431.82"/><path d="M653.33 366.31V407.83"/><path d="M660.11 381.45V404.99"/><path d="M666.88 392.79V418.26"/><path d="M673.66 410.34V446.85"/><path d="M680.44 426.63V464.4"/></g><g stroke="#5a7fab" stroke-width="1.1" opacity="0.85" fill="none"><path d="M41.95 529.7H44.85M41.95 540.1H44.85"/><path d="M48.73 532.16H51.63M48.73 540.1H51.63"/><path d="M55.5 525.04H58.4M55.5 536.7H58.4"/><path d="M62.28 525.63H65.18M62.28 540.1H65.18"/><path d="M69.06 521.08H71.96M69.06 532.98H71.96"/><path d="M75.83 510.66H78.73M75.83 531.09H78.73"/><path d="M82.61 504.17H85.51M82.61 522.2H85.51"/><path d="M89.39 506.4H92.29M89.39 524.59H92.29"/><path d="M96.17 512.22H99.07M96.17 524.91H99.07"/><path d="M102.94 519.09H105.84M102.94 530.35H105.84"/><path d="M109.72 516.1H112.62M109.72 536.42H112.62"/><path d="M116.5 493.73H119.4M116.5 509.57H119.4"/><path d="M123.27 497.38H126.17M123.27 518.23H126.17"/><path d="M130.05 500.74H132.95M130.05 516.4H132.95"/><path d="M136.83 502.5H139.73M136.83 525.4H139.73"/><path d="M143.61 517.49H146.5M143.61 536.56H146.5"/><path d="M150.38 507.37H153.28M150.38 526.69H153.28"/><path d="M157.16 525.69H160.06M157.16 540.1H160.06"/><path d="M163.94 517.39H166.84M163.94 530.51H166.84"/><path d="M170.71 518.52H173.61M170.71 533.99H173.61"/><path d="M177.49 523.32H180.39M177.49 540.1H180.39"/><path d="M184.27 524.06H187.17M184.27 536.15H187.17"/><path d="M191.04 527.74H193.94M191.04 540.1H193.94"/><path d="M197.82 515.71H200.72M197.82 539.88H200.72"/><path d="M204.6 477.18H207.5M204.6 506.12H207.5"/><path d="M211.38 441.79H214.28M211.38 479.99H214.28"/><path d="M218.15 419.56H221.05M218.15 446.86H221.05"/><path d="M224.93 408.56H227.83M224.93 445.55H227.83"/><path d="M231.71 417.36H234.61M231.71 433.68H234.61"/><path d="M238.48 415.67H241.38M238.48 447.68H241.38"/><path d="M245.26 405.23H248.16M245.26 435.04H248.16"/><path d="M252.04 403.74H254.94M252.04 439.61H254.94"/><path d="M258.81 416.11H261.71M258.81 436.47H261.71"/><path d="M265.59 390.48H268.49M265.59 428.26H268.49"/><path d="M272.37 381.13H275.27M272.37 422.23H275.27"/><path d="M279.14 380.23H282.04M279.14 416.98H282.04"/><path d="M285.92 411.1H288.82M285.92 429.18H288.82"/><path d="M292.7 377.84H295.6M292.7 422.45H295.6"/><path d="M299.48 376.31H302.38M299.48 417.82H302.38"/><path d="M306.25 381.81H309.15M306.25 401.56H309.15"/><path d="M313.03 376.28H315.93M313.03 417.85H315.93"/><path d="M319.81 401.66H322.71M319.81 421.69H322.71"/><path d="M326.58 401.58H329.48M326.58 421.78H329.48"/><path d="M333.36 409.57H336.26M333.36 444.54H336.26"/><path d="M340.14 409.5H343.04M340.14 440H343.04"/><path d="M346.92 409.58H349.81M346.92 449.15H349.81"/><path d="M353.69 423.47H356.59M353.69 459.86H356.59"/><path d="M360.47 527.65H363.37M360.47 540.1H363.37"/><path d="M367.25 527.88H370.15M367.25 540.1H370.15"/><path d="M374.02 517.39H376.92M374.02 533.59H376.92"/><path d="M380.8 522.66H383.7M380.8 540.1H383.7"/><path d="M414.69 450.89H417.58M414.69 484.74H417.58"/><path d="M421.46 434.2H424.36M421.46 466.06H424.36"/><path d="M428.24 451.39H431.14M428.24 470.4H431.14"/><path d="M435.02 449.47H437.92M435.02 478.47H437.92"/><path d="M441.79 459.93H444.69M441.79 486.46H444.69"/><path d="M448.57 464.56H451.47M448.57 478.75H451.47"/><path d="M455.35 463.81H458.25M455.35 490.28H458.25"/><path d="M462.12 466.48H465.02M462.12 484.53H465.02"/><path d="M468.9 483.96H471.8M468.9 503.96H471.8"/><path d="M475.68 499.72H478.58M475.68 512.81H478.58"/><path d="M482.45 496.11H485.35M482.45 516.41H485.35"/><path d="M489.23 496.6H492.13M489.23 509.78H492.13"/><path d="M496.01 496.32H498.91M496.01 523.9H498.91"/><path d="M502.79 510.17H505.69M502.79 522.35H505.69"/><path d="M509.56 517H512.46M509.56 537.05H512.46"/><path d="M516.34 509.87H519.24M516.34 530.34H519.24"/><path d="M523.12 510.28H526.02M523.12 534.55H526.02"/><path d="M529.89 474.46H532.79M529.89 504.23H532.79"/><path d="M536.67 449.25H539.57M536.67 483.3H539.57"/><path d="M543.45 449.11H546.35M543.45 477.29H546.35"/><path d="M550.23 439.97H553.13M550.23 460.29H553.13"/><path d="M557 422.51H559.9M557 456.21H559.9"/><path d="M563.78 452.3H566.68M563.78 475.64H566.68"/><path d="M570.56 448.18H573.46M570.56 472.07H573.46"/><path d="M577.33 455.09H580.23M577.33 477.46H580.23"/><path d="M584.11 448.68H587.01M584.11 479.26H587.01"/><path d="M590.89 446.83H593.79M590.89 471.88H593.79"/><path d="M597.66 425.98H600.56M597.66 460.43H600.56"/><path d="M604.44 436.1H607.34M604.44 454.92H607.34"/><path d="M611.22 409.04H614.12M611.22 435.85H614.12"/><path d="M617.99 407.79H620.89M617.99 437.1H620.89"/><path d="M624.77 404.26H627.67M624.77 439.08H627.67"/><path d="M631.55 376.8H634.45M631.55 415.8H634.45"/><path d="M638.33 399.24H641.23M638.33 422.58H641.23"/><path d="M645.1 391.53H648M645.1 431.82H648"/><path d="M651.88 366.31H654.78M651.88 407.83H654.78"/><path d="M658.66 381.45H661.56M658.66 404.99H661.56"/><path d="M665.43 392.79H668.33M665.43 418.26H668.33"/><path d="M672.21 410.34H675.11M672.21 446.85H675.11"/><path d="M678.99 426.63H681.89M678.99 464.4H681.89"/></g>
<polyline points="43.4,532.41 50.18,537.79 56.95,530.87 63.73,523.18 70.51,521.64 77.28,520.11 84.06,520.88 90.84,523.18 97.62,510.11 104.39,505.5 111.17,513.95 117.95,507.8 124.72,503.96 131.5,502.42 138.28,515.49 145.06,523.95 151.83,528.57 158.61,525.49 165.39,527.03 172.16,530.1 178.94,534.72 185.72,535.49 192.49,538.56 199.27,527.03 206.05,476.27 212.83,446.28 219.6,410.14 226.38,420.91 233.16,402.45 239.93,403.99 246.71,384.76 253.49,385.53 260.26,371.69 267.04,390.14 273.82,377.84 280.59,379.38 287.37,375.53 294.15,372.46 300.93,370.15 307.7,386.3 314.48,404.76 321.26,398.6 328.03,411.68 334.81,403.22 341.59,414.75 348.37,433.98 355.14,443.98 361.92,539.33 368.7,533.95 375.47,530.87 382.25,533.95 389.03,540.1" fill="none" stroke="#a8a8a8" stroke-width="0.9" stroke-linejoin="round"/>
<polyline points="409.36,540.1 416.13,535.1 422.91,530.87 429.69,520.88 436.47,523.18 443.24,522.41 450.02,512.42 456.8,497.04 463.57,507.8 470.35,517.03 477.13,510.88 483.9,510.11 490.68,525.49 497.46,532.41 504.24,532.41 511.01,532.41 517.79,539.33 524.57,516.26 531.34,492.42 538.12,431.67 544.9,417.06 551.68,405.52 558.45,399.37 565.23,420.91 572.01,411.68 578.78,402.45 585.56,378.61 592.34,387.07 599.11,387.84 605.89,392.45 612.67,385.53 619.44,367.08 626.22,376.3 633,359.38 639.78,367.84 646.55,387.07 653.33,385.53 660.11,390.14 666.88,407.83 673.66,407.06 680.44,428.6" fill="none" stroke="#a8a8a8" stroke-width="0.9" stroke-linejoin="round"/>
<polyline points="43.4,536.25 50.18,535.49 56.95,529.33 63.73,521.64 70.51,526.26 77.28,516.26 84.06,521.64 90.84,511.65 97.62,506.26 104.39,500.88 111.17,505.5 117.95,500.88 124.72,491.65 131.5,509.34 138.28,503.96 145.06,508.57 151.83,508.57 158.61,517.03 165.39,518.57 172.16,527.03 178.94,533.95 185.72,534.72 192.49,538.56 199.27,523.18 206.05,503.96 212.83,476.27 219.6,448.59 226.38,427.06 233.16,409.37 239.93,409.37 246.71,406.29 253.49,413.22 260.26,412.45 267.04,413.22 273.82,417.06 280.59,427.83 287.37,413.98 294.15,409.37 300.93,403.22 307.7,401.68 314.48,411.68 321.26,421.67 328.03,441.67 334.81,459.36 341.59,449.36 348.37,473.97 355.14,501.65 361.92,539.33 368.7,538.18 375.47,537.02 382.25,538.18 389.03,540.1" fill="none" stroke="#eca98b" stroke-width="0.9" stroke-linejoin="round"/>
<polyline points="409.36,540.1 416.13,467.81 422.91,451.67 429.69,434.75 436.47,431.67 443.24,426.29 450.02,430.13 456.8,437.82 463.57,443.98 470.35,466.28 477.13,477.81 483.9,500.11 490.68,500.11 497.46,532.41 504.24,533.95 511.01,536.25 517.79,537.79 524.57,533.18 531.34,507.03 538.12,471.66 544.9,447.05 551.68,425.52 558.45,410.91 565.23,427.83 572.01,433.98 578.78,443.21 585.56,452.43 592.34,448.59 599.11,437.82 605.89,435.52 612.67,435.52 619.44,424.75 626.22,413.98 633,412.45 639.78,423.98 646.55,425.52 653.33,438.59 660.11,437.05 666.88,447.05 673.66,477.04 680.44,494.73" fill="none" stroke="#eca98b" stroke-width="0.9" stroke-linejoin="round"/>
<polyline points="43.4,537.02 50.18,535.49 56.95,536.25 63.73,534.72 70.51,527.03 77.28,526.26 84.06,517.03 90.84,517.03 97.62,513.19 104.39,515.49 111.17,505.5 117.95,498.57 124.72,510.11 131.5,508.57 138.28,498.57 145.06,507.03 151.83,506.26 158.61,517.03 165.39,525.49 172.16,529.33 178.94,533.95 185.72,534.72 192.49,538.56 199.27,516.26 206.05,476.27 212.83,463.2 219.6,440.13 226.38,429.36 233.16,423.98 239.93,426.29 246.71,420.91 253.49,408.6 260.26,420.14 267.04,413.22 273.82,420.14 280.59,448.59 287.37,421.67 294.15,410.14 300.93,417.06 307.7,422.44 314.48,428.6 321.26,433.98 328.03,459.36 334.81,437.05 341.59,433.21 348.37,424.75 355.14,469.35 361.92,530.87 368.7,531.64 375.47,532.03 382.25,532.03 389.03,540.1" fill="none" stroke="#9e1f5c" stroke-width="0.9" stroke-linejoin="round"/>
<polyline points="409.36,540.1 416.13,431.67 422.91,416.29 429.69,393.22 436.47,394.76 443.24,413.98 450.02,410.91 456.8,413.98 463.57,429.36 470.35,414.75 477.13,440.9 483.9,443.21 490.68,480.89 497.46,489.35 504.24,507.8 511.01,517.8 517.79,517.8 524.57,506.26 531.34,469.35 538.12,450.13 544.9,443.98 551.68,447.82 558.45,439.36 565.23,449.36 572.01,441.67 578.78,421.67 585.56,425.52 592.34,427.06 599.11,448.59 605.89,463.97 612.67,411.68 619.44,425.52 626.22,425.52 633,397.07 639.78,384.76 646.55,405.52 653.33,411.68 660.11,392.45 666.88,387.07 673.66,409.37 680.44,445.51" fill="none" stroke="#9e1f5c" stroke-width="0.9" stroke-linejoin="round"/>
<polyline points="43.4,537.79 50.18,538.56 56.95,530.87 63.73,533.95 70.51,527.03 77.28,520.88 84.06,513.19 90.84,515.49 97.62,518.57 104.39,524.72 111.17,526.26 117.95,501.65 124.72,507.8 131.5,508.57 138.28,513.95 145.06,527.03 151.83,517.03 158.61,533.95 165.39,523.95 172.16,526.26 178.94,533.95 185.72,530.1 192.49,533.95 199.27,527.8 206.05,491.65 212.83,460.89 219.6,433.21 226.38,427.06 233.16,425.52 239.93,431.67 246.71,420.14 253.49,421.67 260.26,426.29 267.04,409.37 273.82,401.68 280.59,398.6 287.37,420.14 294.15,400.14 300.93,397.07 307.7,391.68 314.48,397.07 321.26,411.68 328.03,411.68 334.81,427.06 341.59,424.75 348.37,429.36 355.14,441.67 361.92,539.33 368.7,535.1 375.47,525.49 382.25,535.1 389.03,540.1" fill="none" stroke="#5a7fab" stroke-width="0.9" stroke-linejoin="round"/>
<polyline points="409.36,540.1 416.13,467.81 422.91,450.13 429.69,460.89 436.47,463.97 443.24,473.2 450.02,471.66 456.8,477.04 463.57,475.5 470.35,493.96 477.13,506.26 483.9,506.26 490.68,503.19 497.46,510.11 504.24,516.26 511.01,527.03 517.79,520.11 524.57,522.41 531.34,489.35 538.12,466.28 544.9,463.2 551.68,450.13 558.45,439.36 565.23,463.97 572.01,460.12 578.78,466.28 585.56,463.97 592.34,459.36 599.11,443.21 605.89,445.51 612.67,422.44 619.44,422.44 626.22,421.67 633,396.3 639.78,410.91 646.55,411.68 653.33,387.07 660.11,393.22 666.88,405.52 673.66,428.6 680.44,445.51" fill="none" stroke="#5a7fab" stroke-width="0.9" stroke-linejoin="round"/>
<line x1="71.7" y1="577.8" x2="85.7" y2="577.8" stroke="#a8a8a8" stroke-width="1.5" />
<line x1="77.9" y1="577.8" x2="79.5" y2="577.8" stroke="#cfcfcf" stroke-width="1.5" />
<text transform="translate(89.9 580.5) scale(0.985 1.12)" font-size="8" text-anchor="start" font-weight="normal" font-style="normal" fill="#231f20"><tspan font-style="italic">eater</tspan><tspan font-size="4.6" dy="-3.2" font-style="italic">1</tspan><tspan dy="3.2">&#8201;(HC)</tspan></text>
<line x1="173.1" y1="577.8" x2="187.2" y2="577.8" stroke="#5a7fab" stroke-width="1.5" />
<line x1="179.35" y1="577.8" x2="180.95" y2="577.8" stroke="#cfcfcf" stroke-width="1.5" />
<text transform="translate(191.5 580.5) scale(0.985 1.12)" font-size="8" text-anchor="start" font-weight="normal" font-style="normal" fill="#231f20"><tspan font-style="italic">eater</tspan><tspan font-size="4.6" dy="-3.2" font-style="italic">1</tspan><tspan dy="3.2">&#8201;(PBS)</tspan></text>
<line x1="285.7" y1="577.8" x2="300.2" y2="577.8" stroke="#9e1f5c" stroke-width="1.5" />
<line x1="292.15" y1="577.8" x2="293.75" y2="577.8" stroke="#cfcfcf" stroke-width="1.5" />
<text transform="translate(304.5 580.5) scale(0.985 1.12)" font-size="8" text-anchor="start" font-weight="normal" font-style="normal" fill="#231f20"><tspan font-style="italic">eater</tspan><tspan font-size="4.6" dy="-3.2" font-style="italic">1</tspan><tspan dy="3.2">&#8201;(haemocytes from WT larvae)</tspan></text>
<line x1="485" y1="577.8" x2="499.3" y2="577.8" stroke="#eca98b" stroke-width="1.5" />
<line x1="491.35" y1="577.8" x2="492.95" y2="577.8" stroke="#cfcfcf" stroke-width="1.5" />
<text transform="translate(502.4 580.5) scale(0.985 1.12)" font-size="8" text-anchor="start" font-weight="normal" font-style="normal" fill="#231f20"><tspan font-style="italic">eater</tspan><tspan font-size="4.6" dy="-3.2" font-style="italic">1</tspan><tspan dy="3.2">&#8201;(haemocytes from </tspan><tspan font-style="italic">eater</tspan><tspan font-size="4.6" dy="-3.2" font-style="italic">1</tspan><tspan dy="3.2">&#8201;larvae)</tspan></text>
<text x="0" y="599.5" font-size="11.5" text-anchor="start" font-weight="bold" font-style="normal" fill="#000" >c</text>
<line x1="48.3" y1="651" x2="48.3" y2="797.6" stroke="#9a9a9a" stroke-width="1" />
<line x1="43.3" y1="797.6" x2="48.3" y2="797.6" stroke="#777" stroke-width="0.8" />
<text transform="translate(41.2 799.9) scale(1 1.07)" font-size="8.2" text-anchor="end" font-weight="normal" font-style="normal" fill="#231f20">0</text>
<line x1="43.3" y1="760.95" x2="48.3" y2="760.95" stroke="#777" stroke-width="0.8" />
<text transform="translate(41.2 763.25) scale(1 1.07)" font-size="8.2" text-anchor="end" font-weight="normal" font-style="normal" fill="#231f20">100</text>
<line x1="43.3" y1="724.3" x2="48.3" y2="724.3" stroke="#777" stroke-width="0.8" />
<text transform="translate(41.2 726.6) scale(1 1.07)" font-size="8.2" text-anchor="end" font-weight="normal" font-style="normal" fill="#231f20">200</text>
<line x1="43.3" y1="687.65" x2="48.3" y2="687.65" stroke="#777" stroke-width="0.8" />
<text transform="translate(41.2 689.95) scale(1 1.07)" font-size="8.2" text-anchor="end" font-weight="normal" font-style="normal" fill="#231f20">300</text>
<line x1="43.3" y1="651" x2="48.3" y2="651" stroke="#777" stroke-width="0.8" />
<text transform="translate(41.2 653.3) scale(1 1.07)" font-size="8.2" text-anchor="end" font-weight="normal" font-style="normal" fill="#231f20">400</text>
<line x1="43.3" y1="797.8" x2="677" y2="797.8" stroke="#c4c4c4" stroke-width="1.6" />
<line x1="99.6" y1="798" x2="99.6" y2="802.3" stroke="#555" stroke-width="0.8" />
<line x1="174.6" y1="798" x2="174.6" y2="802.3" stroke="#555" stroke-width="0.8" />
<line x1="250.1" y1="798" x2="250.1" y2="802.3" stroke="#555" stroke-width="0.8" />
<line x1="325.4" y1="798" x2="325.4" y2="802.3" stroke="#555" stroke-width="0.8" />
<line x1="401" y1="798" x2="401" y2="802.3" stroke="#555" stroke-width="0.8" />
<line x1="476.3" y1="798" x2="476.3" y2="802.3" stroke="#555" stroke-width="0.8" />
<line x1="552.1" y1="798" x2="552.1" y2="802.3" stroke="#555" stroke-width="0.8" />
<line x1="627.1" y1="798" x2="627.1" y2="802.3" stroke="#555" stroke-width="0.8" />
<text x="0" y="0" font-size="8" text-anchor="middle" font-weight="normal" font-style="normal" fill="#231f20" transform="translate(6.6 724.8) rotate(-90) scale(1.0 0.95)">Sleep during</text>
<text x="0" y="0" font-size="8" text-anchor="middle" font-weight="normal" font-style="normal" fill="#231f20" transform="translate(16.1 724.8) rotate(-90) scale(1.0 0.95)">6 h after injection (min)</text>
<g fill="#b4b4b4"><circle cx="76.8" cy="681.07" r="2.9"/><circle cx="76.8" cy="691.33" r="2.9"/><circle cx="76.8" cy="708.77" r="2.9"/><circle cx="88.04" cy="685.13" r="2.9"/><circle cx="88.04" cy="697.53" r="2.9"/><circle cx="88.04" cy="713.61" r="2.9"/><circle cx="88.04" cy="740.15" r="2.9"/><circle cx="88.04" cy="748.47" r="2.9"/><circle cx="88.04" cy="756.8" r="2.9"/><circle cx="99.08" cy="667.7" r="2.9"/><circle cx="99.08" cy="685.91" r="2.9"/><circle cx="99.08" cy="697.53" r="2.9"/><circle cx="99.08" cy="706.44" r="2.9"/><circle cx="99.08" cy="714" r="2.9"/><circle cx="99.08" cy="720.97" r="2.9"/><circle cx="99.08" cy="742.08" r="2.9"/><circle cx="99.08" cy="752.35" r="2.9"/><circle cx="99.08" cy="763" r="2.9"/><circle cx="99.08" cy="770.36" r="2.9"/><circle cx="110.12" cy="685.91" r="2.9"/><circle cx="110.12" cy="697.14" r="2.9"/><circle cx="110.12" cy="703.15" r="2.9"/><circle cx="110.12" cy="711.67" r="2.9"/><circle cx="110.12" cy="717.29" r="2.9"/><circle cx="110.12" cy="761.65" r="2.9"/><circle cx="121.36" cy="678.55" r="2.9"/><circle cx="121.36" cy="695.01" r="2.9"/><circle cx="121.36" cy="701.4" r="2.9"/><circle cx="121.36" cy="709.35" r="2.9"/></g>
<g fill="#6a8cb3"><circle cx="152.12" cy="712.83" r="2.9"/><circle cx="152.12" cy="723.29" r="2.9"/><circle cx="159.48" cy="697.14" r="2.9"/><circle cx="159.48" cy="720.97" r="2.9"/><circle cx="159.48" cy="734.92" r="2.9"/><circle cx="167.03" cy="697.92" r="2.9"/><circle cx="167.03" cy="705.28" r="2.9"/><circle cx="167.03" cy="723.68" r="2.9"/><circle cx="167.03" cy="736.85" r="2.9"/><circle cx="167.03" cy="748.86" r="2.9"/><circle cx="174.39" cy="675.45" r="2.9"/><circle cx="174.39" cy="690.75" r="2.9"/><circle cx="174.39" cy="702.37" r="2.9"/><circle cx="174.39" cy="709.35" r="2.9"/><circle cx="174.39" cy="719.03" r="2.9"/><circle cx="174.39" cy="725.81" r="2.9"/><circle cx="174.39" cy="735.88" r="2.9"/><circle cx="174.39" cy="742.08" r="2.9"/><circle cx="174.39" cy="752.35" r="2.9"/><circle cx="174.39" cy="764.94" r="2.9"/><circle cx="181.76" cy="702.37" r="2.9"/><circle cx="181.76" cy="711.28" r="2.9"/><circle cx="181.76" cy="718.06" r="2.9"/><circle cx="181.76" cy="740.53" r="2.9"/><circle cx="181.76" cy="748.86" r="2.9"/><circle cx="189.31" cy="700.05" r="2.9"/><circle cx="189.31" cy="709.73" r="2.9"/><circle cx="189.31" cy="716.9" r="2.9"/><circle cx="189.31" cy="723.68" r="2.9"/><circle cx="196.67" cy="713.8" r="2.9"/><circle cx="196.67" cy="721.36" r="2.9"/></g>
<g fill="#800040"><circle cx="249.78" cy="668.28" r="2.9"/><circle cx="245.52" cy="675.25" r="2.9"/><circle cx="254.43" cy="678.55" r="2.9"/><circle cx="245.52" cy="693.08" r="2.9"/><circle cx="236.61" cy="695.79" r="2.9"/><circle cx="263.34" cy="698.5" r="2.9"/><circle cx="245.52" cy="699.85" r="2.9"/><circle cx="254.43" cy="700.63" r="2.9"/><circle cx="236.61" cy="702.18" r="2.9"/><circle cx="245.52" cy="706.05" r="2.9"/><circle cx="254.43" cy="707.8" r="2.9"/><circle cx="263.34" cy="707.99" r="2.9"/><circle cx="236.61" cy="711.86" r="2.9"/><circle cx="272.25" cy="715.35" r="2.9"/><circle cx="245.52" cy="717.09" r="2.9"/><circle cx="236.61" cy="719.61" r="2.9"/><circle cx="263.34" cy="719.42" r="2.9"/><circle cx="254.43" cy="720.77" r="2.9"/><circle cx="227.7" cy="722.91" r="2.9"/><circle cx="272.25" cy="722.71" r="2.9"/><circle cx="245.52" cy="724.26" r="2.9"/><circle cx="236.61" cy="731.04" r="2.9"/><circle cx="263.34" cy="732.59" r="2.9"/><circle cx="245.52" cy="733.17" r="2.9"/><circle cx="254.43" cy="735.5" r="2.9"/><circle cx="245.52" cy="740.53" r="2.9"/><circle cx="236.61" cy="745.57" r="2.9"/><circle cx="245.52" cy="746.73" r="2.9"/><circle cx="254.43" cy="746.92" r="2.9"/><circle cx="249.78" cy="758.16" r="2.9"/><circle cx="249.78" cy="775.98" r="2.9"/></g>
<g fill="#d98e6e"><circle cx="312" cy="668.67" r="2.9"/><circle cx="320.91" cy="670.41" r="2.9"/><circle cx="329.82" cy="665.96" r="2.9"/><circle cx="325.17" cy="677.97" r="2.9"/><circle cx="320.91" cy="684.75" r="2.9"/><circle cx="329.82" cy="686.1" r="2.9"/><circle cx="325.17" cy="693.85" r="2.9"/><circle cx="316.26" cy="704.31" r="2.9"/><circle cx="325.17" cy="702.37" r="2.9"/><circle cx="334.08" cy="701.79" r="2.9"/><circle cx="312" cy="712.64" r="2.9"/><circle cx="320.91" cy="710.7" r="2.9"/><circle cx="329.82" cy="713.03" r="2.9"/><circle cx="338.73" cy="712.83" r="2.9"/><circle cx="320.91" cy="720.39" r="2.9"/><circle cx="338.73" cy="718.84" r="2.9"/><circle cx="329.82" cy="724.46" r="2.9"/><circle cx="329.82" cy="731.82" r="2.9"/><circle cx="303.09" cy="736.46" r="2.9"/><circle cx="312" cy="736.46" r="2.9"/><circle cx="347.64" cy="736.08" r="2.9"/><circle cx="312" cy="744.41" r="2.9"/><circle cx="320.91" cy="741.31" r="2.9"/><circle cx="329.82" cy="741.69" r="2.9"/><circle cx="338.73" cy="741.69" r="2.9"/><circle cx="320.91" cy="748.47" r="2.9"/><circle cx="325.17" cy="757.38" r="2.9"/><circle cx="325.17" cy="763.2" r="2.9"/></g>
<g fill="#b4b4b4"><circle cx="398.75" cy="732.12" r="2.9"/><circle cx="402.73" cy="733.06" r="2.9"/><circle cx="396.76" cy="758.4" r="2.9"/><circle cx="400.65" cy="760.86" r="2.9"/><circle cx="404.72" cy="762.19" r="2.9"/><circle cx="404.72" cy="768.83" r="2.9"/><circle cx="396.57" cy="773.86" r="2.9"/><circle cx="400.65" cy="773.39" r="2.9"/><circle cx="394.86" cy="783.35" r="2.9"/><circle cx="410.99" cy="781.45" r="2.9"/><circle cx="414.78" cy="782.87" r="2.9"/><circle cx="398.75" cy="786.2" r="2.9"/><circle cx="418.86" cy="787.62" r="2.9"/><circle cx="378.54" cy="788.09" r="2.9"/><circle cx="382.62" cy="787.62" r="2.9"/><circle cx="406.81" cy="788.38" r="2.9"/><circle cx="423.13" cy="790.46" r="2.9"/><circle cx="415.07" cy="790.46" r="2.9"/><circle cx="378.54" cy="795.68" r="2.9"/><circle cx="386.6" cy="795.21" r="2.9"/><circle cx="390.4" cy="792.84" r="2.9"/><circle cx="394.19" cy="792.36" r="2.9"/><circle cx="398.75" cy="792.84" r="2.9"/><circle cx="394.67" cy="797.11" r="2.9"/><circle cx="402.73" cy="797.58" r="2.9"/><circle cx="407" cy="795.68" r="2.9"/><circle cx="410.8" cy="797.11" r="2.9"/><circle cx="415.07" cy="796.63" r="2.9"/><circle cx="419.34" cy="795.21" r="2.9"/><circle cx="423.13" cy="797.11" r="2.9"/></g>
<g fill="#6a8cb3"><circle cx="476.14" cy="682.42" r="2.9"/><circle cx="468.78" cy="690.75" r="2.9"/><circle cx="476.14" cy="688.81" r="2.9"/><circle cx="483.69" cy="691.33" r="2.9"/><circle cx="476.14" cy="736.08" r="2.9"/><circle cx="483.69" cy="742.08" r="2.9"/><circle cx="476.14" cy="746.73" r="2.9"/><circle cx="468.78" cy="751.77" r="2.9"/><circle cx="476.14" cy="754.67" r="2.9"/><circle cx="483.69" cy="755.45" r="2.9"/><circle cx="468.78" cy="760.48" r="2.9"/><circle cx="461.22" cy="768.23" r="2.9"/><circle cx="483.69" cy="765.52" r="2.9"/><circle cx="468.78" cy="771.14" r="2.9"/><circle cx="476.14" cy="769.39" r="2.9"/><circle cx="491.05" cy="770.17" r="2.9"/><circle cx="453.86" cy="778.11" r="2.9"/><circle cx="461.22" cy="779.47" r="2.9"/><circle cx="468.78" cy="777.14" r="2.9"/><circle cx="476.14" cy="780.44" r="2.9"/><circle cx="483.69" cy="777.14" r="2.9"/><circle cx="491.05" cy="779.47" r="2.9"/><circle cx="498.41" cy="776.17" r="2.9"/><circle cx="468.78" cy="785.67" r="2.9"/><circle cx="483.69" cy="783.34" r="2.9"/><circle cx="472.46" cy="792.25" r="2.9"/><circle cx="465.1" cy="797.29" r="2.9"/><circle cx="480.01" cy="797.29" r="2.9"/><circle cx="487.37" cy="795.54" r="2.9"/></g>
<g fill="#800040"><circle cx="545.91" cy="667.51" r="2.9"/><circle cx="557.53" cy="665.96" r="2.9"/><circle cx="551.72" cy="676.03" r="2.9"/><circle cx="569.15" cy="687.07" r="2.9"/><circle cx="545.91" cy="692.3" r="2.9"/><circle cx="557.53" cy="690.75" r="2.9"/><circle cx="534.09" cy="698.11" r="2.9"/><circle cx="569.15" cy="695.79" r="2.9"/><circle cx="545.91" cy="704.89" r="2.9"/><circle cx="557.53" cy="701.21" r="2.9"/><circle cx="569.15" cy="701.99" r="2.9"/><circle cx="557.53" cy="707.41" r="2.9"/><circle cx="557.53" cy="715.93" r="2.9"/><circle cx="534.09" cy="718.45" r="2.9"/><circle cx="545.91" cy="719.42" r="2.9"/><circle cx="569.15" cy="718.84" r="2.9"/><circle cx="557.53" cy="722.91" r="2.9"/><circle cx="557.53" cy="729.69" r="2.9"/><circle cx="545.91" cy="733.56" r="2.9"/><circle cx="545.91" cy="745.96" r="2.9"/><circle cx="557.53" cy="745.18" r="2.9"/><circle cx="545.91" cy="759.71" r="2.9"/><circle cx="557.53" cy="761.26" r="2.9"/><circle cx="557.53" cy="778.5" r="2.9"/><circle cx="534.09" cy="782.76" r="2.9"/><circle cx="569.15" cy="781.21" r="2.9"/><circle cx="557.53" cy="784.89" r="2.9"/><circle cx="557.53" cy="794" r="2.9"/><circle cx="545.91" cy="797.29" r="2.9"/></g>
<g fill="#d98e6e"><circle cx="621.1" cy="695.01" r="2.9"/><circle cx="632.72" cy="696.95" r="2.9"/><circle cx="609.48" cy="710.9" r="2.9"/><circle cx="621.1" cy="712.64" r="2.9"/><circle cx="632.72" cy="707.99" r="2.9"/><circle cx="644.73" cy="712.64" r="2.9"/><circle cx="621.1" cy="718.84" r="2.9"/><circle cx="632.72" cy="718.45" r="2.9"/><circle cx="621.1" cy="729.88" r="2.9"/><circle cx="632.72" cy="728.33" r="2.9"/><circle cx="621.1" cy="738.01" r="2.9"/><circle cx="632.72" cy="737.82" r="2.9"/><circle cx="644.73" cy="736.46" r="2.9"/><circle cx="609.48" cy="745.76" r="2.9"/><circle cx="621.1" cy="746.15" r="2.9"/><circle cx="632.72" cy="745.57" r="2.9"/><circle cx="644.73" cy="743.83" r="2.9"/><circle cx="621.1" cy="756.03" r="2.9"/><circle cx="632.72" cy="756.03" r="2.9"/><circle cx="644.73" cy="752.35" r="2.9"/><circle cx="609.48" cy="772.3" r="2.9"/><circle cx="621.1" cy="772.49" r="2.9"/><circle cx="632.72" cy="770.36" r="2.9"/><circle cx="644.73" cy="773.46" r="2.9"/><circle cx="609.48" cy="777.92" r="2.9"/><circle cx="621.1" cy="778.69" r="2.9"/><circle cx="621.1" cy="785.86" r="2.9"/><circle cx="632.72" cy="783.73" r="2.9"/><circle cx="609.48" cy="795.35" r="2.9"/><circle cx="621.1" cy="793.41" r="2.9"/><circle cx="632.72" cy="794.96" r="2.9"/><circle cx="644.73" cy="794.19" r="2.9"/></g>
<line x1="74.5" y1="708.77" x2="123.9" y2="708.77" stroke="#333" stroke-width="1.1" />
<line x1="149.2" y1="719.23" x2="199.6" y2="719.23" stroke="#333" stroke-width="1.1" />
<line x1="225.2" y1="719.42" x2="274.6" y2="719.42" stroke="#333" stroke-width="1.1" />
<line x1="300.2" y1="716.13" x2="350.6" y2="716.13" stroke="#333" stroke-width="1.1" />
<line x1="376.2" y1="789.1" x2="426" y2="789.1" stroke="#333" stroke-width="1.1" />
<line x1="451.2" y1="770.36" x2="501.2" y2="770.36" stroke="#333" stroke-width="1.1" />
<line x1="526.7" y1="718.64" x2="577.1" y2="718.64" stroke="#333" stroke-width="1.1" />
<line x1="602.1" y1="746.15" x2="652.5" y2="746.15" stroke="#333" stroke-width="1.1" />
<text transform="translate(40.3 814) scale(0.985 1.12)" font-size="8" text-anchor="end" font-weight="normal" font-style="normal" fill="#231f20">Genotype:</text>
<text transform="translate(40.3 823.8) scale(0.985 1.12)" font-size="8" text-anchor="end" font-weight="normal" font-style="normal" fill="#231f20">Injection</text>
<text transform="translate(99.6 814) scale(0.985 1.12)" font-size="8" text-anchor="middle" font-weight="normal" font-style="italic" fill="#231f20">CantonS</text>
<text transform="translate(99.6 823.8) scale(0.985 1.12)" font-size="8" text-anchor="middle" font-weight="normal" font-style="normal" fill="#231f20">(handled control)</text>
<text transform="translate(174.6 814) scale(0.985 1.12)" font-size="8" text-anchor="middle" font-weight="normal" font-style="italic" fill="#231f20">CantonS</text>
<text transform="translate(174.6 823.8) scale(0.985 1.12)" font-size="8" text-anchor="middle" font-weight="normal" font-style="normal" fill="#231f20">(PBS)</text>
<text transform="translate(250.1 814) scale(0.985 1.12)" font-size="8" text-anchor="middle" font-weight="normal" font-style="italic" fill="#231f20">CantonS</text>
<text transform="translate(250.1 823.8) scale(0.985 1.12)" font-size="8" text-anchor="middle" font-weight="normal" font-style="normal" fill="#231f20">(WT haemocytes)</text>
<text transform="translate(325.4 814) scale(0.985 1.12)" font-size="8" text-anchor="middle" font-weight="normal" font-style="italic" fill="#231f20">CantonS</text>
<text transform="translate(325.4 823.8) scale(0.985 1.12)" font-size="8" text-anchor="middle" font-weight="normal" font-style="normal" fill="#231f20">(<tspan font-style="italic">eater</tspan><tspan font-size="4.6" dy="-3.2" font-style="italic">1</tspan><tspan dy="3.2">&#8201;haemocytes)</tspan></text>
<text transform="translate(401 814) scale(0.985 1.12)" font-size="8" text-anchor="middle" font-weight="normal" font-style="italic" fill="#231f20">eater<tspan font-size="4.6" dy="-3.2" font-style="italic">1</tspan></text>
<text transform="translate(401 823.8) scale(0.985 1.12)" font-size="8" text-anchor="middle" font-weight="normal" font-style="normal" fill="#231f20">(handled control)</text>
<text transform="translate(476.3 814) scale(0.985 1.12)" font-size="8" text-anchor="middle" font-weight="normal" font-style="italic" fill="#231f20">eater<tspan font-size="4.6" dy="-3.2" font-style="italic">1</tspan></text>
<text transform="translate(476.3 823.8) scale(0.985 1.12)" font-size="8" text-anchor="middle" font-weight="normal" font-style="normal" fill="#231f20">(PBS)</text>
<text transform="translate(552.1 814) scale(0.985 1.12)" font-size="8" text-anchor="middle" font-weight="normal" font-style="italic" fill="#231f20">eater<tspan font-size="4.6" dy="-3.2" font-style="italic">1</tspan></text>
<text transform="translate(552.1 823.8) scale(0.985 1.12)" font-size="8" text-anchor="middle" font-weight="normal" font-style="normal" fill="#231f20">(WT haemocytes)</text>
<text transform="translate(627.1 814) scale(0.985 1.12)" font-size="8" text-anchor="middle" font-weight="normal" font-style="italic" fill="#231f20">eater<tspan font-size="4.6" dy="-3.2" font-style="italic">1</tspan></text>
<text transform="translate(627.1 823.8) scale(0.985 1.12)" font-size="8" text-anchor="middle" font-weight="normal" font-style="normal" fill="#231f20">(<tspan font-style="italic">eater</tspan><tspan font-size="4.6" dy="-3.2" font-style="italic">1</tspan><tspan dy="3.2">&#8201;haemocytes)</tspan></text>
<line x1="95.6" y1="650.5" x2="325.6" y2="650.5" stroke="#555" stroke-width="0.85" />
<text transform="translate(210.5 645.8) scale(0.95 1.18)" font-size="7.6" text-anchor="middle" font-weight="normal" font-style="normal" fill="#231f20">NS</text>
<path d="M247.5 607V604.2H549.3V607" fill="none" stroke="#999" stroke-width="1.0"/>
<text transform="translate(398.9 600.6) scale(0.95 1.18)" font-size="7.6" text-anchor="middle" font-weight="normal" font-style="normal" fill="#231f20">NS</text>
<path d="M474.6 614.4V611.6H624.7V614.4" fill="none" stroke="#555" stroke-width="0.9"/>
<text transform="translate(575.2 607.4) scale(0.95 1.18)" font-size="7.6" text-anchor="middle" font-weight="normal" font-style="normal" fill="#231f20">NS</text>
<path d="M400.2 628.3V625.5H625.6V628.3" fill="none" stroke="#555" stroke-width="0.9"/>
<text x="435.8" y="624.9" font-size="9.8" text-anchor="middle" font-weight="normal" font-style="normal" fill="#231f20" >***</text>
<path d="M400.2 642.4V639.6H549.3V642.4" fill="none" stroke="#555" stroke-width="0.9"/>
<text x="475" y="638.3" font-size="9.8" text-anchor="middle" font-weight="normal" font-style="normal" fill="#231f20" >****</text>
<path d="M400.2 655.8V653H473.4V655.8" fill="none" stroke="#555" stroke-width="0.9"/>
<text transform="translate(436.4 649.6) scale(0.95 1.18)" font-size="7.6" text-anchor="middle" font-weight="normal" font-style="normal" fill="#231f20">NS</text>
<path d="M476.3 655.8V653H549.3V655.8" fill="none" stroke="#555" stroke-width="0.9"/>
<text x="512.7" y="651" font-size="9.8" text-anchor="middle" font-weight="normal" font-style="normal" fill="#231f20" >***</text>
<path d="M551.5 655.8V653H624.7V655.8" fill="none" stroke="#555" stroke-width="0.9"/>
<text x="588.1" y="651" font-size="9.8" text-anchor="middle" font-weight="normal" font-style="normal" fill="#231f20" >*</text>
</svg>
</body></html>
